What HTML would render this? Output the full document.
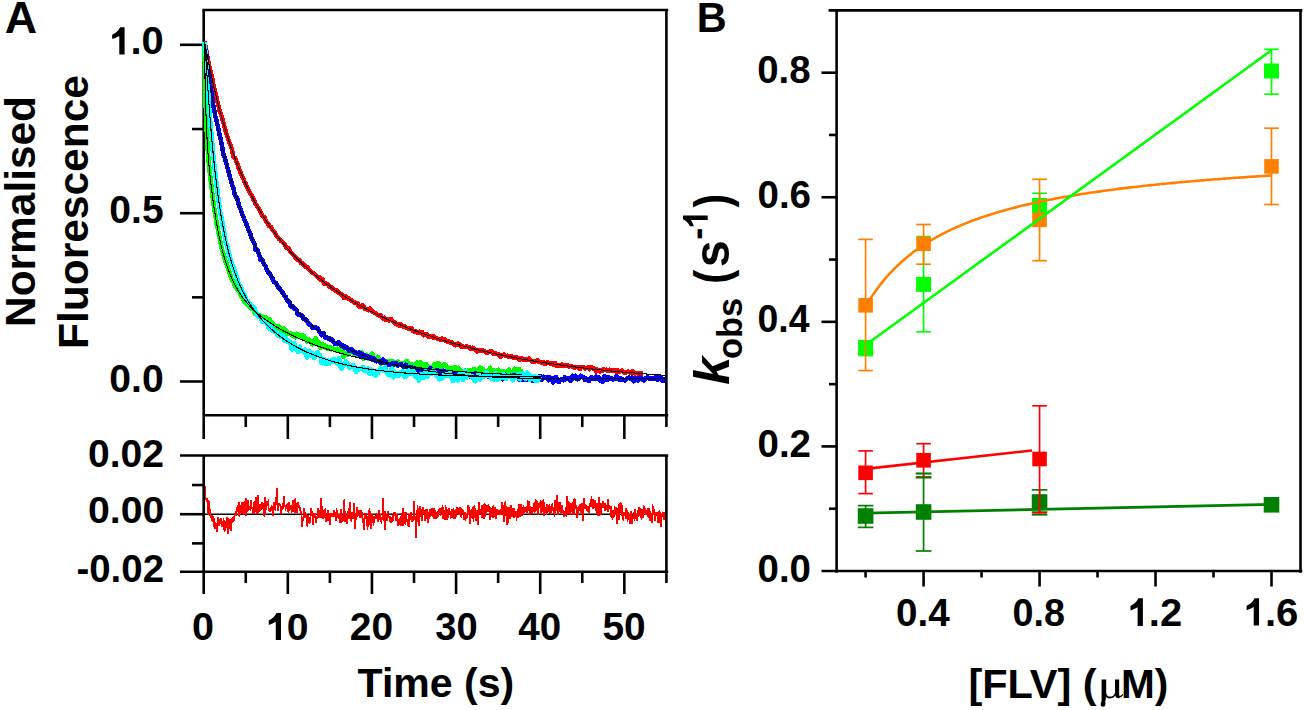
<!DOCTYPE html><html><head><meta charset="utf-8"><style>html,body{margin:0;padding:0;background:#fff;overflow:hidden}svg{display:block}</style></head><body><svg width="1305" height="710" viewBox="0 0 1305 710">
<rect width="1305" height="710" fill="#fff"/>
<defs><clipPath id="ca"><rect x="201.5" y="11.3" width="463.5" height="402.6"/></clipPath><clipPath id="cr"><rect x="205" y="456.8" width="460" height="113.6"/></clipPath></defs>
<g clip-path="url(#cr)">
<line x1="203.70" y1="514.20" x2="666.40" y2="514.20" stroke="#000" stroke-width="1.6" />
<g shape-rendering="crispEdges">
<polyline points="204.2,490.7 204.7,486.1 205.1,486.5 205.6,498.1 206.1,498.7 206.5,501.3 207.0,497.8 207.4,502.4 207.9,500.5 208.4,514.7 208.8,500.8 209.3,510.6 209.8,509.1 210.2,514.9 210.7,518.1 211.1,516.2 211.6,514.9 212.1,519.9 212.5,519.9 213.0,516.2 213.5,523.7 213.9,526.9 214.4,518.2 214.8,523.3 215.3,529.4 215.8,524.4 216.2,523.0 216.7,531.7 217.2,528.2 217.6,521.3 218.1,517.5 218.5,523.0 219.0,525.5 219.5,520.5 219.9,519.1 220.4,524.1 220.9,520.4 221.3,518.2 221.8,524.3 222.2,527.3 222.7,521.9 223.2,522.3 223.6,518.3 224.1,529.4 224.6,530.2 225.0,527.3 225.5,531.4 225.9,522.7 226.4,520.8 226.9,526.7 227.3,516.7 227.8,519.4 228.3,534.0 228.7,521.3 229.2,518.6 229.6,529.3 230.1,520.2 230.6,520.2 231.0,531.2 231.5,519.4 232.0,523.2 232.4,517.4 232.9,522.1 233.4,519.2 233.8,516.5 234.3,521.2 234.7,513.3 235.2,515.6 235.7,511.9 236.1,515.6 236.6,507.1 237.1,508.4 237.5,511.8 238.0,507.7 238.4,504.5 238.9,501.7 239.4,517.1 239.8,505.4 240.3,507.0 240.8,509.3 241.2,513.3 241.7,502.4 242.1,513.9 242.6,505.1 243.1,501.7 243.5,515.2 244.0,509.1 244.5,513.8 244.9,506.6 245.4,500.6 245.8,498.2 246.3,516.0 246.8,510.3 247.2,504.3 247.7,500.2 248.2,505.6 248.6,511.1 249.1,506.2 249.5,507.6 250.0,508.5 250.5,511.0 250.9,499.6 251.4,506.1 251.9,507.9 252.3,508.5 252.8,513.5 253.2,509.7 253.7,501.8 254.2,508.3 254.6,514.1 255.1,501.2 255.6,504.9 256.0,497.5 256.5,507.0 256.9,509.5 257.4,514.1 257.9,501.1 258.3,495.3 258.8,511.1 259.3,510.3 259.7,504.5 260.2,511.1 260.6,508.5 261.1,508.8 261.6,506.3 262.0,502.0 262.5,507.0 263.0,502.8 263.4,509.1 263.9,505.6 264.4,517.1 264.8,513.8 265.3,497.3 265.7,509.8 266.2,504.3 266.7,504.5 267.1,500.8 267.6,503.2 268.1,502.2 268.5,507.5 269.0,510.2 269.4,510.3 269.9,509.2 270.4,512.2 270.8,509.4 271.3,507.3 271.8,505.7 272.2,508.4 272.7,515.8 273.1,507.1 273.6,505.7 274.1,501.7 274.5,504.1 275.0,509.8 275.5,510.1 275.9,497.3 276.4,503.2 276.8,487.9 277.3,496.7 277.8,510.5 278.2,504.8 278.7,504.5 279.2,504.0 279.6,504.1 280.1,505.6 280.5,505.8 281.0,513.6 281.5,507.3 281.9,510.0 282.4,505.9 282.9,508.7 283.3,503.6 283.8,496.1 284.2,505.0 284.7,505.0 285.2,506.0 285.6,508.5 286.1,507.2 286.6,508.7 287.0,504.6 287.5,506.3 287.9,503.6 288.4,512.5 288.9,502.2 289.3,509.9 289.8,509.7 290.3,507.2 290.7,508.9 291.2,504.9 291.7,508.9 292.1,511.2 292.6,510.1 293.0,500.1 293.5,506.0 294.0,511.6 294.4,506.1 294.9,513.4 295.4,497.7 295.8,513.2 296.3,503.8 296.7,503.5 297.2,512.8 297.7,504.8 298.1,502.5 298.6,505.9 299.1,507.9 299.5,505.6 300.0,510.3 300.4,510.4 300.9,513.5 301.4,511.0 301.8,519.3 302.3,527.3 302.8,518.0 303.2,520.7 303.7,514.0 304.1,507.8 304.6,511.2 305.1,518.1 305.5,512.4 306.0,517.8 306.5,516.2 306.9,515.2 307.4,526.5 307.8,514.8 308.3,520.5 308.8,518.9 309.2,522.5 309.7,522.7 310.2,520.1 310.6,511.8 311.1,507.9 311.5,515.8 312.0,510.6 312.5,516.9 312.9,524.6 313.4,515.0 313.9,513.6 314.3,517.7 314.8,514.2 315.2,513.0 315.7,519.7 316.2,522.6 316.6,516.7 317.1,516.6 317.6,517.3 318.0,511.1 318.5,507.6 318.9,517.6 319.4,512.4 319.9,511.3 320.3,512.3 320.8,498.2 321.3,517.5 321.7,512.2 322.2,506.2 322.7,511.9 323.1,518.6 323.6,512.8 324.0,509.8 324.5,513.9 325.0,518.3 325.4,508.5 325.9,521.5 326.4,513.3 326.8,515.7 327.3,521.2 327.7,510.0 328.2,514.0 328.7,521.1 329.1,512.8 329.6,517.7 330.1,524.5 330.5,518.9 331.0,514.4 331.4,512.7 331.9,514.9 332.4,515.4 332.8,513.5 333.3,516.6 333.8,510.2 334.2,515.0 334.7,514.3 335.1,513.1 335.6,520.6 336.1,519.0 336.5,508.5 337.0,514.1 337.5,517.0 337.9,514.1 338.4,517.9 338.8,514.4 339.3,518.8 339.8,514.4 340.2,523.0 340.7,509.4 341.2,518.1 341.6,523.0 342.1,516.7 342.5,517.4 343.0,514.9 343.5,521.0 343.9,513.8 344.4,498.7 344.9,521.6 345.3,514.1 345.8,517.1 346.2,514.8 346.7,524.1 347.2,521.0 347.6,513.5 348.1,515.8 348.6,508.0 349.0,518.9 349.5,514.8 350.0,502.1 350.4,519.2 350.9,519.9 351.3,515.8 351.8,515.9 352.3,511.7 352.7,515.1 353.2,519.2 353.7,514.7 354.1,503.3 354.6,509.7 355.0,528.6 355.5,516.3 356.0,519.7 356.4,512.8 356.9,516.5 357.4,506.6 357.8,511.3 358.3,511.5 358.7,514.8 359.2,515.8 359.7,514.1 360.1,509.7 360.6,513.5 361.1,517.8 361.5,510.4 362.0,515.6 362.4,517.0 362.9,520.5 363.4,519.7 363.8,520.2 364.3,530.4 364.8,512.8 365.2,515.1 365.7,518.9 366.1,513.2 366.6,516.2 367.1,516.7 367.5,530.1 368.0,519.7 368.5,516.1 368.9,511.1 369.4,510.0 369.8,511.9 370.3,524.0 370.8,528.8 371.2,515.9 371.7,518.4 372.2,514.1 372.6,519.2 373.1,517.6 373.5,525.6 374.0,516.5 374.5,520.7 374.9,516.9 375.4,516.4 375.9,519.1 376.3,517.1 376.8,518.6 377.2,515.0 377.7,516.2 378.2,521.1 378.6,521.3 379.1,510.4 379.6,519.1 380.0,513.9 380.5,516.7 381.0,521.2 381.4,522.1 381.9,518.0 382.3,517.4 382.8,515.7 383.3,498.2 383.7,521.4 384.2,519.0 384.7,511.1 385.1,529.6 385.6,516.5 386.0,521.1 386.5,514.1 387.0,520.9 387.4,516.9 387.9,511.3 388.4,516.9 388.8,516.6 389.3,516.8 389.7,522.1 390.2,516.0 390.7,519.5 391.1,522.4 391.6,518.8 392.1,519.6 392.5,515.1 393.0,518.8 393.4,521.0 393.9,511.8 394.4,514.0 394.8,512.6 395.3,515.7 395.8,519.1 396.2,520.5 396.7,519.9 397.1,514.2 397.6,518.1 398.1,525.5 398.5,518.8 399.0,525.2 399.5,517.8 399.9,524.2 400.4,524.5 400.8,518.0 401.3,518.9 401.8,526.3 402.2,515.1 402.7,508.5 403.2,525.5 403.6,510.1 404.1,521.8 404.5,520.9 405.0,519.4 405.5,525.3 405.9,512.5 406.4,516.3 406.9,522.1 407.3,519.9 407.8,525.7 408.3,520.2 408.7,514.2 409.2,526.6 409.6,520.6 410.1,517.9 410.6,513.7 411.0,512.3 411.5,520.7 412.0,522.0 412.4,516.5 412.9,520.3 413.3,520.0 413.8,513.5 414.3,501.2 414.7,517.3 415.2,519.5 415.7,515.6 416.1,537.5 416.6,517.5 417.0,521.9 417.5,505.3 418.0,512.7 418.4,514.9 418.9,516.0 419.4,526.4 419.8,510.9 420.3,506.1 420.7,517.0 421.2,510.4 421.7,510.2 422.1,520.8 422.6,509.2 423.1,507.2 423.5,512.5 424.0,513.9 424.4,509.9 424.9,520.7 425.4,513.1 425.8,508.6 426.3,519.3 426.8,508.9 427.2,515.5 427.7,523.2 428.1,514.0 428.6,518.0 429.1,512.0 429.5,518.9 430.0,508.6 430.5,516.9 430.9,511.8 431.4,516.2 431.8,514.9 432.3,507.9 432.8,512.4 433.2,515.2 433.7,519.2 434.2,508.0 434.6,510.0 435.1,514.9 435.5,512.2 436.0,518.2 436.5,518.1 436.9,517.2 437.4,511.7 437.9,511.9 438.3,516.8 438.8,509.9 439.3,509.6 439.7,512.5 440.2,508.4 440.6,514.6 441.1,513.8 441.6,511.1 442.0,513.4 442.5,505.1 443.0,519.1 443.4,506.6 443.9,516.9 444.3,514.0 444.8,519.6 445.3,510.4 445.7,507.2 446.2,508.2 446.7,509.3 447.1,520.4 447.6,516.8 448.0,515.3 448.5,517.5 449.0,507.9 449.4,512.3 449.9,513.2 450.4,510.8 450.8,517.6 451.3,517.3 451.7,517.2 452.2,510.8 452.7,511.5 453.1,510.4 453.6,508.0 454.1,519.4 454.5,515.7 455.0,512.4 455.4,519.3 455.9,515.5 456.4,508.3 456.8,507.9 457.3,508.0 457.8,512.8 458.2,514.0 458.7,507.9 459.1,514.7 459.6,511.4 460.1,506.8 460.5,514.7 461.0,515.8 461.5,513.0 461.9,510.1 462.4,510.7 462.8,512.2 463.3,510.3 463.8,520.4 464.2,516.9 464.7,512.1 465.2,517.2 465.6,519.1 466.1,518.5 466.6,517.1 467.0,513.7 467.5,517.6 467.9,511.7 468.4,504.9 468.9,513.5 469.3,506.9 469.8,511.4 470.3,524.3 470.7,514.0 471.2,517.4 471.6,509.2 472.1,518.1 472.6,506.6 473.0,510.0 473.5,522.2 474.0,509.1 474.4,505.5 474.9,516.4 475.3,508.1 475.8,521.1 476.3,511.5 476.7,520.4 477.2,510.4 477.7,521.0 478.1,524.9 478.6,510.8 479.0,502.0 479.5,515.4 480.0,508.7 480.4,512.1 480.9,514.1 481.4,509.7 481.8,504.9 482.3,518.4 482.7,509.9 483.2,511.0 483.7,519.2 484.1,505.0 484.6,503.4 485.1,517.0 485.5,504.4 486.0,512.3 486.4,513.3 486.9,505.5 487.4,511.4 487.8,511.0 488.3,505.4 488.8,506.5 489.2,508.3 489.7,519.0 490.1,519.8 490.6,507.2 491.1,516.8 491.5,511.7 492.0,517.4 492.5,513.3 492.9,518.4 493.4,504.8 493.9,517.2 494.3,513.0 494.8,513.3 495.2,506.7 495.7,519.0 496.2,512.5 496.6,513.3 497.1,509.9 497.6,510.1 498.0,514.5 498.5,511.2 498.9,514.1 499.4,510.1 499.9,512.8 500.3,515.3 500.8,512.4 501.3,510.6 501.7,501.7 502.2,514.5 502.6,510.8 503.1,505.4 503.6,521.9 504.0,520.4 504.5,517.8 505.0,512.7 505.4,500.8 505.9,510.4 506.3,506.5 506.8,513.2 507.3,523.7 507.7,523.0 508.2,507.4 508.7,511.3 509.1,518.2 509.6,506.9 510.0,519.3 510.5,506.8 511.0,505.3 511.4,515.7 511.9,517.3 512.4,508.1 512.8,517.2 513.3,508.0 513.7,517.6 514.2,508.3 514.7,511.6 515.1,516.5 515.6,516.2 516.1,510.9 516.5,520.9 517.0,513.3 517.4,513.9 517.9,508.8 518.4,517.8 518.8,504.0 519.3,513.4 519.8,517.3 520.2,505.5 520.7,504.2 521.1,512.8 521.6,516.1 522.1,511.8 522.5,515.1 523.0,513.4 523.5,504.6 523.9,510.1 524.4,511.2 524.9,510.3 525.3,512.1 525.8,507.8 526.2,507.4 526.7,513.0 527.2,510.6 527.6,499.6 528.1,508.6 528.6,511.2 529.0,500.6 529.5,509.9 529.9,514.8 530.4,506.3 530.9,513.4 531.3,511.3 531.8,507.2 532.3,509.1 532.7,511.8 533.2,510.6 533.6,510.8 534.1,502.6 534.6,511.4 535.0,510.7 535.5,498.6 536.0,510.7 536.4,501.1 536.9,501.9 537.3,508.8 537.8,514.7 538.3,506.0 538.7,504.9 539.2,503.6 539.7,507.7 540.1,502.5 540.6,501.6 541.0,513.0 541.5,501.4 542.0,507.3 542.4,510.7 542.9,509.6 543.4,499.3 543.8,503.5 544.3,516.4 544.7,507.7 545.2,508.7 545.7,508.9 546.1,510.5 546.6,514.9 547.1,504.1 547.5,512.5 548.0,509.8 548.4,510.9 548.9,511.5 549.4,504.6 549.8,506.3 550.3,511.2 550.8,512.5 551.2,510.3 551.7,503.6 552.2,507.5 552.6,507.0 553.1,509.6 553.5,509.3 554.0,507.1 554.5,516.7 554.9,500.5 555.4,511.7 555.9,510.7 556.3,501.8 556.8,507.0 557.2,495.2 557.7,510.8 558.2,515.4 558.6,507.2 559.1,502.5 559.6,512.3 560.0,501.7 560.5,513.3 560.9,511.5 561.4,505.7 561.9,508.1 562.3,504.8 562.8,511.5 563.3,512.9 563.7,516.8 564.2,513.7 564.6,513.1 565.1,514.7 565.6,506.6 566.0,511.2 566.5,517.4 567.0,496.5 567.4,512.0 567.9,513.9 568.3,502.3 568.8,502.6 569.3,513.4 569.7,515.0 570.2,512.7 570.7,502.8 571.1,509.5 571.6,511.8 572.0,508.2 572.5,502.5 573.0,514.6 573.4,509.9 573.9,514.5 574.4,497.9 574.8,499.6 575.3,503.6 575.7,508.7 576.2,505.0 576.7,517.9 577.1,506.8 577.6,514.3 578.1,514.3 578.5,511.4 579.0,509.7 579.4,505.4 579.9,504.8 580.4,506.8 580.8,512.5 581.3,504.9 581.8,508.6 582.2,502.6 582.7,512.4 583.2,521.0 583.6,510.3 584.1,498.0 584.5,505.9 585.0,509.0 585.5,503.9 585.9,505.7 586.4,505.9 586.9,510.5 587.3,507.7 587.8,507.1 588.2,511.1 588.7,513.3 589.2,507.4 589.6,503.6 590.1,505.1 590.6,505.8 591.0,505.7 591.5,496.0 591.9,506.9 592.4,503.2 592.9,498.9 593.3,507.8 593.8,506.8 594.3,503.2 594.7,500.2 595.2,506.6 595.6,506.4 596.1,507.6 596.6,513.7 597.0,502.9 597.5,509.3 598.0,516.1 598.4,508.7 598.9,516.1 599.3,496.7 599.8,508.0 600.3,512.4 600.7,503.1 601.2,514.9 601.7,506.8 602.1,505.4 602.6,501.2 603.0,503.7 603.5,506.9 604.0,507.7 604.4,508.3 604.9,502.7 605.4,511.1 605.8,505.6 606.3,508.5 606.7,507.1 607.2,509.7 607.7,498.8 608.1,512.1 608.6,508.1 609.1,508.3 609.5,507.0 610.0,508.0 610.5,508.3 610.9,506.0 611.4,517.9 611.8,511.1 612.3,517.1 612.8,510.5 613.2,517.4 613.7,516.6 614.2,512.7 614.6,506.1 615.1,510.2 615.5,511.8 616.0,506.9 616.5,518.1 616.9,523.7 617.4,516.1 617.9,515.4 618.3,508.4 618.8,504.2 619.2,520.3 619.7,502.6 620.2,506.8 620.6,510.2 621.1,512.4 621.6,502.8 622.0,513.8 622.5,516.3 622.9,513.5 623.4,520.5 623.9,511.9 624.3,514.6 624.8,512.6 625.3,512.5 625.7,519.1 626.2,508.0 626.6,518.9 627.1,510.0 627.6,521.6 628.0,512.4 628.5,518.0 629.0,513.9 629.4,517.2 629.9,524.3 630.3,519.3 630.8,513.8 631.3,511.2 631.7,521.0 632.2,524.0 632.7,518.2 633.1,515.1 633.6,517.1 634.0,517.9 634.5,510.2 635.0,509.6 635.4,510.7 635.9,518.5 636.4,513.8 636.8,515.0 637.3,520.8 637.7,510.0 638.2,513.7 638.7,516.4 639.1,507.5 639.6,510.6 640.1,510.1 640.5,508.5 641.0,510.8 641.5,520.0 641.9,515.9 642.4,509.4 642.8,517.7 643.3,514.0 643.8,512.3 644.2,507.4 644.7,508.1 645.2,509.9 645.6,515.0 646.1,509.9 646.5,511.7 647.0,514.9 647.5,507.8 647.9,511.8 648.4,517.7 648.9,508.2 649.3,515.3 649.8,511.4 650.2,521.3 650.7,514.2 651.2,518.6 651.6,518.7 652.1,523.1 652.6,504.1 653.0,514.8 653.5,513.0 653.9,509.0 654.4,514.7 654.9,511.8 655.3,520.5 655.8,513.2 656.3,516.1 656.7,511.8 657.2,513.3 657.6,520.6 658.1,522.8 658.6,518.9 659.0,510.7 659.5,512.2 660.0,512.3 660.4,523.6 660.9,526.7 661.3,517.1 661.8,515.7 662.3,517.0 662.7,512.5 663.2,515.0 663.7,519.7 664.1,518.3 664.6,513.5 665.0,513.8 665.5,514.5 666.0,503.6 666.4,515.4" fill="none" stroke="#ff0000" stroke-width="1.7"/>
</g></g>
<line x1="202.40" y1="10.00" x2="668.20" y2="10.00" stroke="#000" stroke-width="2.6" />
<line x1="203.70" y1="10.00" x2="203.70" y2="439.00" stroke="#000" stroke-width="2.6" />
<line x1="666.40" y1="10.00" x2="666.40" y2="427.00" stroke="#000" stroke-width="2.6" />
<line x1="203.70" y1="415.20" x2="668.20" y2="415.20" stroke="#000" stroke-width="2.6" />
<line x1="287.83" y1="415.20" x2="287.83" y2="439.00" stroke="#000" stroke-width="2.6" />
<line x1="371.95" y1="415.20" x2="371.95" y2="439.00" stroke="#000" stroke-width="2.6" />
<line x1="456.08" y1="415.20" x2="456.08" y2="439.00" stroke="#000" stroke-width="2.6" />
<line x1="540.21" y1="415.20" x2="540.21" y2="439.00" stroke="#000" stroke-width="2.6" />
<line x1="624.34" y1="415.20" x2="624.34" y2="439.00" stroke="#000" stroke-width="2.6" />
<line x1="245.76" y1="415.20" x2="245.76" y2="427.00" stroke="#000" stroke-width="2.6" />
<line x1="329.89" y1="415.20" x2="329.89" y2="427.00" stroke="#000" stroke-width="2.6" />
<line x1="414.02" y1="415.20" x2="414.02" y2="427.00" stroke="#000" stroke-width="2.6" />
<line x1="498.15" y1="415.20" x2="498.15" y2="427.00" stroke="#000" stroke-width="2.6" />
<line x1="582.27" y1="415.20" x2="582.27" y2="427.00" stroke="#000" stroke-width="2.6" />
<line x1="180.00" y1="381.50" x2="203.70" y2="381.50" stroke="#000" stroke-width="2.6" />
<line x1="180.00" y1="213.20" x2="203.70" y2="213.20" stroke="#000" stroke-width="2.6" />
<line x1="180.00" y1="44.80" x2="203.70" y2="44.80" stroke="#000" stroke-width="2.6" />
<line x1="192.00" y1="297.35" x2="203.70" y2="297.35" stroke="#000" stroke-width="2.6" />
<line x1="192.00" y1="129.05" x2="203.70" y2="129.05" stroke="#000" stroke-width="2.6" />
<line x1="180.00" y1="455.50" x2="668.20" y2="455.50" stroke="#000" stroke-width="2.6" />
<line x1="203.70" y1="455.50" x2="203.70" y2="594.00" stroke="#000" stroke-width="2.6" />
<line x1="666.40" y1="455.50" x2="666.40" y2="583.00" stroke="#000" stroke-width="2.6" />
<line x1="180.00" y1="571.70" x2="668.20" y2="571.70" stroke="#000" stroke-width="2.6" />
<line x1="180.00" y1="514.20" x2="203.70" y2="514.20" stroke="#000" stroke-width="2.6" />
<line x1="192.00" y1="485.03" x2="203.70" y2="485.03" stroke="#000" stroke-width="2.6" />
<line x1="192.00" y1="543.38" x2="203.70" y2="543.38" stroke="#000" stroke-width="2.6" />
<line x1="287.83" y1="571.70" x2="287.83" y2="594.00" stroke="#000" stroke-width="2.6" />
<line x1="371.95" y1="571.70" x2="371.95" y2="594.00" stroke="#000" stroke-width="2.6" />
<line x1="456.08" y1="571.70" x2="456.08" y2="594.00" stroke="#000" stroke-width="2.6" />
<line x1="540.21" y1="571.70" x2="540.21" y2="594.00" stroke="#000" stroke-width="2.6" />
<line x1="624.34" y1="571.70" x2="624.34" y2="594.00" stroke="#000" stroke-width="2.6" />
<line x1="245.76" y1="571.70" x2="245.76" y2="583.00" stroke="#000" stroke-width="2.6" />
<line x1="329.89" y1="571.70" x2="329.89" y2="583.00" stroke="#000" stroke-width="2.6" />
<line x1="414.02" y1="571.70" x2="414.02" y2="583.00" stroke="#000" stroke-width="2.6" />
<line x1="498.15" y1="571.70" x2="498.15" y2="583.00" stroke="#000" stroke-width="2.6" />
<line x1="582.27" y1="571.70" x2="582.27" y2="583.00" stroke="#000" stroke-width="2.6" />
<g clip-path="url(#ca)" shape-rendering="crispEdges">
<polyline points="204.5,41.4 205.1,44.6 205.7,47.8 206.3,50.9 206.9,54.1 207.4,56.6 208.0,59.7 208.6,62.5 209.2,65.9 209.8,68.7 210.4,71.3 211.0,73.5 211.6,75.3 212.2,77.9 212.7,81.1 213.3,84.1 213.9,87.2 214.5,89.8 215.1,92.2 215.7,93.8 216.3,96.7 216.9,99.9 217.5,101.9 218.0,103.6 218.6,106.2 219.2,109.6 219.8,111.6 220.4,112.6 221.0,114.2 221.6,116.0 222.2,118.3 222.8,120.3 223.3,122.4 223.9,124.6 224.5,126.8 225.1,129.1 225.7,131.2 226.3,133.0 226.9,134.9 227.5,136.7 228.1,138.9 228.6,140.6 229.2,142.5 229.8,143.6 230.4,145.1 231.0,146.7 231.6,148.2 232.2,150.8 232.8,153.4 233.4,156.4 233.9,157.2 234.5,157.9 235.1,158.2 235.7,159.6 236.3,161.7 236.9,162.9 237.5,164.1 238.1,165.5 238.7,168.1 239.2,169.6 239.8,170.9 240.4,172.2 241.0,173.7 241.6,174.7 242.2,176.2 242.8,177.3 243.4,178.8 244.0,180.5 244.5,182.2 245.1,182.9 245.7,183.8 246.3,185.3 246.9,186.6 247.5,188.0 248.1,189.7 248.7,190.8 249.3,191.9 249.8,192.8 250.4,193.8 251.0,194.5 251.6,194.7 252.2,196.3 252.8,198.1 253.4,200.1 254.0,200.1 254.6,200.9 255.1,202.7 255.7,204.0 256.3,204.9 256.9,205.8 257.5,206.8 258.1,207.6 258.7,208.9 259.3,210.0 259.9,210.7 260.4,211.5 261.0,213.0 261.6,214.0 262.2,215.4 262.8,216.6 263.4,217.0 264.0,217.0 264.6,217.2 265.2,219.0 265.7,220.3 266.3,221.4 266.9,222.5 267.5,223.3 268.1,224.1 268.7,224.7 269.3,226.2 269.9,226.6 270.5,226.8 271.0,227.0 271.6,228.6 272.2,230.0 272.8,230.5 273.4,230.8 274.0,231.5 274.6,232.6 275.2,233.7 275.8,234.2 276.3,235.4 276.9,236.1 277.5,237.2 278.1,237.8 278.7,238.7 279.3,239.0 279.9,239.1 280.5,240.3 281.1,241.2 281.6,241.4 282.2,241.6 282.8,242.0 283.4,242.6 284.0,243.2 284.6,244.0 285.2,245.2 285.8,246.5 286.4,247.5 286.9,247.6 287.5,247.6 288.1,247.9 288.7,248.7 289.3,249.9 289.9,251.1 290.5,252.0 291.1,252.8 291.7,253.1 292.2,253.6 292.8,254.3 293.4,255.2 294.0,255.7 294.6,256.4 295.2,257.8 295.8,258.3 296.4,258.6 297.0,258.4 297.5,259.0 298.1,260.1 298.7,260.1 299.3,260.3 299.9,260.4 300.5,262.4 301.1,263.1 301.7,263.2 302.3,263.3 302.8,264.1 303.4,264.2 304.0,264.6 304.6,265.8 305.2,266.4 305.8,266.4 306.4,266.8 307.0,267.0 307.6,267.3 308.1,268.1 308.7,269.4 309.3,270.0 309.9,270.5 310.5,271.0 311.1,271.6 311.7,272.3 312.3,272.7 312.9,272.8 313.4,273.0 314.0,273.3 314.6,273.8 315.2,274.4 315.8,275.2 316.4,276.0 317.0,276.3 317.6,277.2 318.2,277.8 318.7,277.2 319.3,277.3 319.9,278.0 320.5,279.8 321.1,279.9 321.7,280.1 322.3,279.2 322.9,280.1 323.5,281.9 324.0,283.5 324.6,283.3 325.2,283.2 325.8,283.3 326.4,283.8 327.0,284.0 327.6,284.2 328.2,284.7 328.8,285.9 329.3,286.2 329.9,287.2 330.5,287.2 331.1,287.8 331.7,287.6 332.3,288.6 332.9,288.9 333.5,289.3 334.1,289.6 334.6,290.2 335.2,290.4 335.8,290.7 336.4,290.4 337.0,291.0 337.6,291.6 338.2,292.4 338.8,292.2 339.4,292.7 339.9,293.5 340.5,293.6 341.1,293.9 341.7,294.7 342.3,295.5 342.9,295.9 343.5,297.0 344.1,298.1 344.7,297.9 345.2,296.9 345.8,296.4 346.4,296.8 347.0,297.9 347.6,298.4 348.2,298.3 348.8,298.4 349.4,298.9 350.0,299.6 350.5,299.8 351.1,300.2 351.7,301.0 352.3,301.1 352.9,301.5 353.5,301.7 354.1,302.6 354.7,302.5 355.3,302.6 355.8,302.7 356.4,302.8 357.0,303.0 357.6,303.6 358.2,305.6 358.8,306.4 359.4,306.4 360.0,306.0 360.6,306.6 361.1,306.6 361.7,306.1 362.3,305.4 362.9,305.4 363.5,306.4 364.1,307.6 364.7,308.7 365.3,308.7 365.9,308.7 366.4,308.8 367.0,309.5 367.6,310.0 368.2,310.3 368.8,310.2 369.4,309.0 370.0,308.6 370.6,309.3 371.2,310.6 371.7,311.4 372.3,311.4 372.9,311.6 373.5,311.9 374.1,312.9 374.7,312.9 375.3,313.3 375.9,313.4 376.5,314.3 377.0,314.8 377.6,314.7 378.2,314.7 378.8,315.5 379.4,315.8 380.0,315.3 380.6,315.1 381.2,316.5 381.8,317.3 382.3,318.1 382.9,318.3 383.5,318.5 384.1,317.7 384.7,317.9 385.3,319.0 385.9,319.9 386.5,319.6 387.1,319.9 387.6,319.3 388.2,318.9 388.8,319.0 389.4,320.4 390.0,320.0 390.6,319.0 391.2,319.3 391.8,320.6 392.4,321.1 392.9,321.5 393.5,322.4 394.1,322.5 394.7,322.4 395.3,322.8 395.9,324.0 396.5,324.4 397.1,324.2 397.7,324.1 398.2,324.7 398.8,325.5 399.4,324.7 400.0,324.1 400.6,324.6 401.2,325.5 401.8,325.5 402.4,325.5 403.0,326.5 403.5,327.0 404.1,327.1 404.7,326.4 405.3,327.1 405.9,327.2 406.5,327.6 407.1,328.2 407.7,328.4 408.3,328.3 408.8,328.0 409.4,328.7 410.0,328.4 410.6,328.2 411.2,328.0 411.8,328.4 412.4,329.6 413.0,331.1 413.6,331.5 414.1,331.3 414.7,330.9 415.3,330.9 415.9,331.4 416.5,332.3 417.1,332.9 417.7,333.0 418.3,332.9 418.9,332.3 419.4,331.7 420.0,332.1 420.6,333.0 421.2,333.1 421.8,332.4 422.4,332.4 423.0,334.1 423.6,335.3 424.2,335.3 424.7,334.8 425.3,334.0 425.9,333.9 426.5,334.0 427.1,335.3 427.7,336.1 428.3,336.6 428.9,336.6 429.5,336.5 430.0,336.3 430.6,336.1 431.2,335.9 431.8,336.6 432.4,337.1 433.0,337.4 433.6,336.5 434.2,336.7 434.8,337.1 435.3,338.1 435.9,338.2 436.5,338.2 437.1,338.3 437.7,338.9 438.3,339.2 438.9,338.9 439.5,339.3 440.1,339.4 440.6,339.6 441.2,338.9 441.8,338.6 442.4,338.9 443.0,340.2 443.6,340.0 444.2,339.4 444.8,339.4 445.4,340.6 445.9,341.2 446.5,341.3 447.1,341.0 447.7,341.4 448.3,341.6 448.9,341.6 449.5,342.0 450.1,342.4 450.7,342.5 451.2,342.2 451.8,342.8 452.4,342.9 453.0,343.8 453.6,343.9 454.2,344.5 454.8,344.3 455.4,345.3 456.0,345.2 456.5,344.9 457.1,343.9 457.7,343.6 458.3,344.4 458.9,344.4 459.5,344.1 460.1,344.3 460.7,345.7 461.3,346.5 461.8,346.3 462.4,346.0 463.0,346.8 463.6,347.1 464.2,347.0 464.8,346.8 465.4,346.9 466.0,346.8 466.6,346.4 467.1,346.5 467.7,346.7 468.3,346.9 468.9,346.8 469.5,347.1 470.1,348.4 470.7,349.1 471.3,348.8 471.9,348.3 472.4,347.7 473.0,347.8 473.6,347.9 474.2,348.6 474.8,349.1 475.4,349.5 476.0,349.9 476.6,350.7 477.2,351.6 477.7,351.2 478.3,350.3 478.9,350.0 479.5,350.9 480.1,351.3 480.7,351.0 481.3,350.4 481.9,350.6 482.5,350.5 483.0,350.5 483.6,350.8 484.2,351.1 484.8,351.6 485.4,351.8 486.0,352.5 486.6,352.4 487.2,353.0 487.8,352.7 488.3,352.4 488.9,352.2 489.5,352.2 490.1,351.9 490.7,351.4 491.3,351.3 491.9,351.8 492.5,352.7 493.1,353.6 493.6,353.9 494.2,353.6 494.8,353.1 495.4,354.0 496.0,353.5 496.6,353.9 497.2,353.8 497.8,354.4 498.4,354.4 498.9,355.0 499.5,356.1 500.1,356.4 500.7,357.0 501.3,356.4 501.9,355.7 502.5,355.2 503.1,355.0 503.7,354.5 504.2,354.5 504.8,355.3 505.4,356.1 506.0,356.3 506.6,355.9 507.2,355.7 507.8,355.9 508.4,356.6 509.0,356.6 509.5,356.6 510.1,356.7 510.7,356.9 511.3,356.4 511.9,356.1 512.5,356.7 513.1,357.7 513.7,357.8 514.3,357.4 514.8,357.4 515.4,357.4 516.0,357.2 516.6,357.6 517.2,357.8 517.8,357.9 518.4,358.5 519.0,359.3 519.6,359.9 520.1,358.9 520.7,358.2 521.3,358.0 521.9,358.6 522.5,359.0 523.1,359.6 523.7,359.5 524.3,359.4 524.9,358.8 525.4,358.9 526.0,359.0 526.6,359.8 527.2,360.0 527.8,360.1 528.4,359.6 529.0,358.6 529.6,359.1 530.2,360.0 530.7,360.5 531.3,360.5 531.9,361.1 532.5,361.6 533.1,362.2 533.7,362.1 534.3,361.7 534.9,361.0 535.5,361.3 536.0,361.3 536.6,360.5 537.2,360.3 537.8,360.5 538.4,361.5 539.0,361.7 539.6,362.1 540.2,362.1 540.8,362.6 541.3,363.0 541.9,362.9 542.5,362.2 543.1,361.8 543.7,362.3 544.3,362.7 544.9,363.8 545.5,363.6 546.1,363.4 546.6,362.6 547.2,362.6 547.8,362.7 548.4,362.7 549.0,363.2 549.6,363.1 550.2,363.6 550.8,363.5 551.4,363.2 551.9,363.3 552.5,363.9 553.1,364.6 553.7,364.3 554.3,363.2 554.9,363.0 555.5,364.3 556.1,365.8 556.7,366.1 557.2,365.7 557.8,365.5 558.4,365.3 559.0,365.5 559.6,366.2 560.2,366.0 560.8,365.9 561.4,365.0 562.0,364.6 562.5,364.7 563.1,365.5 563.7,365.9 564.3,365.4 564.9,365.8 565.5,366.2 566.1,365.7 566.7,365.0 567.3,365.2 567.8,365.9 568.4,366.4 569.0,366.4 569.6,366.1 570.2,365.8 570.8,365.9 571.4,365.8 572.0,366.6 572.6,367.0 573.1,367.3 573.7,366.8 574.3,367.2 574.9,367.5 575.5,367.3 576.1,366.9 576.7,366.9 577.3,367.4 577.9,367.5 578.4,367.4 579.0,368.2 579.6,368.9 580.2,368.9 580.8,367.8 581.4,366.9 582.0,367.2 582.6,367.1 583.2,367.2 583.7,367.0 584.3,367.9 584.9,368.4 585.5,368.1 586.1,367.8 586.7,367.9 587.3,368.0 587.9,367.3 588.5,367.8 589.0,368.7 589.6,369.2 590.2,368.1 590.8,367.0 591.4,367.0 592.0,367.9 592.6,368.4 593.2,368.0 593.8,368.3 594.3,368.5 594.9,369.1 595.5,370.2 596.1,371.3 596.7,370.9 597.3,369.5 597.9,369.8 598.5,371.0 599.1,371.3 599.6,371.5 600.2,371.1 600.8,370.3 601.4,370.2 602.0,370.7 602.6,370.7 603.2,369.3 603.8,369.4 604.4,369.6 604.9,370.2 605.5,369.9 606.1,369.7 606.7,369.9 607.3,370.8 607.9,371.0 608.5,370.8 609.1,369.7 609.7,369.8 610.2,370.1 610.8,371.0 611.4,370.9 612.0,370.8 612.6,371.0 613.2,370.8 613.8,369.9 614.4,369.8 615.0,371.1 615.5,371.4 616.1,371.4 616.7,370.3 617.3,370.4 617.9,370.1 618.5,371.5 619.1,371.8 619.7,371.7 620.3,371.0 620.8,371.3 621.4,371.0 622.0,370.6 622.6,370.7 623.2,371.9 623.8,372.4 624.4,371.9 625.0,371.8 625.6,372.0 626.1,372.7 626.7,372.1 627.3,372.0 627.9,371.6 628.5,371.8 629.1,372.0 629.7,372.3 630.3,372.0 630.9,372.3 631.4,372.6 632.0,371.5 632.6,370.9 633.2,371.4 633.8,373.1 634.4,373.1 635.0,373.4 635.6,372.8 636.2,372.9 636.7,373.2 637.3,373.3 637.9,373.1 638.5,373.3 639.1,373.8 639.7,374.0 640.3,373.6 640.9,373.6 641.5,373.4 642.0,373.4 642.6,373.4" fill="none" stroke="#ff0000" stroke-width="4.5" stroke-linejoin="round"/>
<polyline points="204.5,41.7 205.1,79.8 205.7,104.1 206.3,121.5 206.9,134.0 207.4,145.1 208.0,153.5 208.6,160.6 209.2,166.9 209.8,172.7 210.4,178.2 211.0,183.7 211.6,188.8 212.2,192.9 212.7,197.2 213.3,201.8 213.9,206.3 214.5,209.9 215.1,213.1 215.7,217.0 216.3,221.2 216.9,225.0 217.5,227.6 218.0,230.0 218.6,232.8 219.2,236.0 219.8,238.9 220.4,241.9 221.0,245.2 221.6,248.2 222.2,250.0 222.8,251.8 223.3,254.0 223.9,255.6 224.5,257.7 225.1,259.8 225.7,261.9 226.3,263.0 226.9,264.7 227.5,266.8 228.1,268.4 228.6,270.0 229.2,271.5 229.8,273.6 230.4,275.2 231.0,277.4 231.6,279.0 232.2,280.7 232.8,280.9 233.4,281.6 233.9,282.4 234.5,284.4 235.1,285.6 235.7,286.9 236.3,287.9 236.9,288.6 237.5,290.0 238.1,290.7 238.7,290.5 239.2,290.7 239.8,292.4 240.4,295.2 241.0,295.9 241.6,297.4 242.2,297.4 242.8,298.1 243.4,299.1 244.0,301.1 244.5,302.3 245.1,302.4 245.7,301.8 246.3,301.7 246.9,303.1 247.5,304.8 248.1,305.1 248.7,306.3 249.3,306.7 249.8,306.6 250.4,307.3 251.0,308.1 251.6,309.2 252.2,309.1 252.8,309.4 253.4,309.7 254.0,311.7 254.6,313.6 255.1,313.7 255.7,313.3 256.3,313.3 256.9,313.6 257.5,314.3 258.1,314.6 258.7,315.2 259.3,315.4 259.9,315.5 260.4,316.2 261.0,315.9 261.6,316.6 262.2,316.6 262.8,318.2 263.4,318.0 264.0,318.3 264.6,317.7 265.2,317.3 265.7,318.5 266.3,318.1 266.9,318.3 267.5,319.3 268.1,322.7 268.7,322.0 269.3,319.9 269.9,319.5 270.5,321.3 271.0,321.7 271.6,321.9 272.2,323.4 272.8,324.8 273.4,324.5 274.0,324.3 274.6,325.7 275.2,326.4 275.8,327.5 276.3,328.1 276.9,327.8 277.5,326.2 278.1,326.0 278.7,327.2 279.3,326.9 279.9,327.2 280.5,329.4 281.1,330.8 281.6,332.8 282.2,334.1 282.8,333.1 283.4,329.3 284.0,328.4 284.6,330.4 285.2,331.4 285.8,330.4 286.4,331.0 286.9,332.6 287.5,334.2 288.1,333.7 288.7,332.8 289.3,332.8 289.9,332.8 290.5,333.8 291.1,334.3 291.7,335.5 292.2,335.9 292.8,335.2 293.4,334.5 294.0,335.2 294.6,336.6 295.2,337.2 295.8,336.3 296.4,335.4 297.0,333.8 297.5,335.4 298.1,337.2 298.7,336.4 299.3,335.3 299.9,334.9 300.5,335.0 301.1,336.2 301.7,337.3 302.3,337.4 302.8,335.8 303.4,335.6 304.0,335.8 304.6,337.1 305.2,338.4 305.8,339.1 306.4,339.3 307.0,341.5 307.6,340.7 308.1,340.7 308.7,339.3 309.3,340.4 309.9,340.2 310.5,340.8 311.1,341.2 311.7,343.0 312.3,344.2 312.9,343.1 313.4,342.3 314.0,343.6 314.6,343.0 315.2,340.3 315.8,338.4 316.4,340.4 317.0,341.8 317.6,342.6 318.2,342.2 318.7,342.7 319.3,345.1 319.9,346.8 320.5,348.0 321.1,345.7 321.7,344.7 322.3,344.3 322.9,345.6 323.5,345.3 324.0,345.0 324.6,345.8 325.2,347.7 325.8,347.1 326.4,346.4 327.0,346.4 327.6,348.7 328.2,348.9 328.8,348.6 329.3,347.2 329.9,347.7 330.5,348.1 331.1,349.2 331.7,347.7 332.3,348.6 332.9,348.8 333.5,349.1 334.1,349.2 334.6,350.0 335.2,350.2 335.8,349.9 336.4,350.6 337.0,349.9 337.6,348.8 338.2,349.3 338.8,350.8 339.4,350.7 339.9,349.2 340.5,348.3 341.1,348.3 341.7,348.2 342.3,350.2 342.9,353.1 343.5,356.6 344.1,354.9 344.7,354.9 345.2,354.1 345.8,353.6 346.4,352.8 347.0,354.1 347.6,354.9 348.2,353.1 348.8,353.7 349.4,354.0 350.0,353.7 350.5,352.3 351.1,352.7 351.7,352.4 352.3,352.2 352.9,352.8 353.5,354.3 354.1,354.2 354.7,354.3 355.3,353.8 355.8,354.2 356.4,353.3 357.0,354.3 357.6,355.1 358.2,355.6 358.8,354.6 359.4,353.8 360.0,353.7 360.6,353.6 361.1,352.9 361.7,352.4 362.3,354.5 362.9,358.1 363.5,358.5 364.1,357.4 364.7,356.4 365.3,357.0 365.9,355.8 366.4,354.7 367.0,355.7 367.6,357.4 368.2,358.4 368.8,358.8 369.4,358.9 370.0,358.4 370.6,357.2 371.2,355.6 371.7,353.8 372.3,353.7 372.9,356.4 373.5,359.1 374.1,359.3 374.7,358.6 375.3,358.1 375.9,359.5 376.5,359.4 377.0,357.3 377.6,356.7 378.2,358.0 378.8,360.0 379.4,359.4 380.0,360.3 380.6,362.5 381.2,363.5 381.8,362.4 382.3,361.6 382.9,362.2 383.5,363.0 384.1,362.8 384.7,362.0 385.3,362.6 385.9,363.3 386.5,362.6 387.1,361.2 387.6,362.1 388.2,363.2 388.8,362.9 389.4,361.1 390.0,362.0 390.6,362.2 391.2,362.7 391.8,361.6 392.4,361.5 392.9,361.8 393.5,363.2 394.1,363.9 394.7,362.5 395.3,362.1 395.9,363.7 396.5,365.2 397.1,364.3 397.7,361.9 398.2,361.6 398.8,362.8 399.4,363.9 400.0,363.7 400.6,364.3 401.2,364.8 401.8,364.5 402.4,363.5 403.0,363.2 403.5,364.3 404.1,365.3 404.7,365.8 405.3,364.2 405.9,362.1 406.5,361.1 407.1,361.1 407.7,362.3 408.3,363.4 408.8,366.0 409.4,365.9 410.0,365.7 410.6,364.8 411.2,364.5 411.8,364.2 412.4,365.5 413.0,366.3 413.6,365.9 414.1,365.0 414.7,364.5 415.3,364.5 415.9,365.0 416.5,364.2 417.1,362.6 417.7,362.7 418.3,365.4 418.9,367.0 419.4,366.5 420.0,364.8 420.6,362.4 421.2,362.5 421.8,363.9 422.4,366.2 423.0,366.1 423.6,366.5 424.2,367.3 424.7,366.8 425.3,365.8 425.9,364.1 426.5,365.1 427.1,365.6 427.7,366.0 428.3,367.1 428.9,369.2 429.5,369.0 430.0,366.8 430.6,367.5 431.2,369.4 431.8,370.1 432.4,369.1 433.0,367.0 433.6,366.1 434.2,364.6 434.8,365.5 435.3,366.3 435.9,366.9 436.5,365.3 437.1,363.7 437.7,363.3 438.3,363.1 438.9,363.5 439.5,366.7 440.1,369.1 440.6,369.6 441.2,367.7 441.8,366.5 442.4,367.1 443.0,366.8 443.6,365.3 444.2,364.1 444.8,364.8 445.4,366.1 445.9,365.9 446.5,366.4 447.1,367.5 447.7,368.4 448.3,368.3 448.9,369.2 449.5,369.7 450.1,369.3 450.7,368.0 451.2,368.6 451.8,368.5 452.4,367.9 453.0,368.0 453.6,368.6 454.2,368.2 454.8,366.9 455.4,368.0 456.0,370.1 456.5,370.8 457.1,370.6 457.7,368.0 458.3,367.8 458.9,368.5 459.5,370.2 460.1,369.5 460.7,371.2 461.3,372.5 461.8,372.3 462.4,371.1 463.0,372.2 463.6,372.5 464.2,372.1 464.8,370.6 465.4,370.8 466.0,371.6 466.6,372.2 467.1,371.3 467.7,370.6 468.3,371.0 468.9,371.0 469.5,370.9 470.1,370.0 470.7,371.0 471.3,370.6 471.9,370.7 472.4,370.1 473.0,369.9 473.6,369.3 474.2,369.3 474.8,369.7 475.4,371.2 476.0,371.8 476.6,373.5 477.2,375.0 477.7,375.2 478.3,373.1 478.9,369.9 479.5,368.6 480.1,367.8 480.7,369.2 481.3,369.8 481.9,369.6 482.5,368.7 483.0,369.0 483.6,370.0 484.2,371.3 484.8,372.7 485.4,374.0 486.0,373.0 486.6,372.0 487.2,371.6 487.8,371.8 488.3,371.8 488.9,370.6 489.5,368.9 490.1,367.8 490.7,369.7 491.3,372.9 491.9,371.8 492.5,369.9 493.1,370.1 493.6,371.4 494.2,372.6 494.8,372.8 495.4,373.6 496.0,372.4 496.6,373.1 497.2,371.1 497.8,370.2 498.4,369.7 498.9,371.5 499.5,372.6 500.1,373.9 500.7,373.5 501.3,371.2 501.9,370.8 502.5,371.1 503.1,372.0 503.7,371.4 504.2,373.6 504.8,373.7 505.4,373.8 506.0,372.6 506.6,375.6 507.2,376.6 507.8,375.1 508.4,370.3 509.0,369.5 509.5,371.5 510.1,373.0 510.7,371.9 511.3,371.9 511.9,372.7 512.5,373.2 513.1,372.3 513.7,371.2 514.3,369.3 514.8,368.8 515.4,369.2 516.0,370.6 516.6,370.8 517.2,372.0 517.8,370.9 518.4,370.5 519.0,369.1 519.6,371.3 520.1,371.3 520.7,371.6 521.3,371.3 521.9,372.4" fill="none" stroke="#00ff00" stroke-width="4.6" stroke-linejoin="round"/>
<polyline points="204.5,42.3 205.1,46.7 205.7,50.4 206.3,54.8 206.9,60.3 207.4,65.7 208.0,71.1 208.6,76.4 209.2,80.4 209.8,83.5 210.4,87.0 211.0,90.3 211.6,93.3 212.2,96.4 212.7,101.1 213.3,105.1 213.9,108.3 214.5,111.2 215.1,115.5 215.7,117.8 216.3,119.4 216.9,121.8 217.5,125.0 218.0,127.3 218.6,129.8 219.2,133.2 219.8,136.1 220.4,138.2 221.0,140.8 221.6,144.0 222.2,146.9 222.8,150.6 223.3,153.4 223.9,155.8 224.5,156.9 225.1,159.3 225.7,161.3 226.3,163.4 226.9,165.5 227.5,167.9 228.1,169.9 228.6,172.2 229.2,173.9 229.8,176.7 230.4,178.8 231.0,180.8 231.6,182.6 232.2,185.1 232.8,186.5 233.4,187.6 233.9,189.9 234.5,193.8 235.1,195.8 235.7,196.7 236.3,196.9 236.9,197.8 237.5,199.4 238.1,201.6 238.7,204.6 239.2,206.4 239.8,208.1 240.4,209.1 241.0,210.3 241.6,212.3 242.2,214.7 242.8,215.8 243.4,217.2 244.0,218.6 244.5,219.7 245.1,220.4 245.7,222.3 246.3,224.0 246.9,225.4 247.5,227.1 248.1,229.4 248.7,230.5 249.3,231.3 249.8,232.0 250.4,234.0 251.0,236.1 251.6,238.3 252.2,239.4 252.8,240.8 253.4,241.7 254.0,242.7 254.6,244.2 255.1,247.5 255.7,250.0 256.3,250.0 256.9,249.4 257.5,250.0 258.1,252.0 258.7,253.1 259.3,255.1 259.9,257.4 260.4,259.5 261.0,259.7 261.6,259.4 262.2,259.5 262.8,260.7 263.4,262.8 264.0,264.0 264.6,264.8 265.2,265.5 265.7,266.9 266.3,268.1 266.9,269.5 267.5,270.8 268.1,272.2 268.7,272.9 269.3,273.5 269.9,273.5 270.5,275.3 271.0,276.1 271.6,277.1 272.2,277.5 272.8,279.4 273.4,280.7 274.0,282.3 274.6,282.5 275.2,282.8 275.8,282.9 276.3,283.7 276.9,284.7 277.5,286.2 278.1,287.6 278.7,287.8 279.3,288.3 279.9,289.0 280.5,290.0 281.1,290.9 281.6,290.9 282.2,292.2 282.8,292.9 283.4,293.6 284.0,294.5 284.6,295.8 285.2,296.8 285.8,296.8 286.4,298.4 286.9,299.5 287.5,300.9 288.1,301.4 288.7,301.5 289.3,301.6 289.9,303.4 290.5,305.7 291.1,306.8 291.7,305.9 292.2,306.0 292.8,307.1 293.4,307.9 294.0,307.8 294.6,307.7 295.2,309.2 295.8,309.5 296.4,310.0 297.0,311.4 297.5,313.5 298.1,314.4 298.7,314.1 299.3,313.8 299.9,314.2 300.5,315.2 301.1,315.2 301.7,315.0 302.3,315.9 302.8,317.5 303.4,318.6 304.0,318.9 304.6,318.8 305.2,319.0 305.8,319.6 306.4,320.4 307.0,320.8 307.6,322.0 308.1,323.0 308.7,324.3 309.3,324.5 309.9,324.5 310.5,324.6 311.1,325.7 311.7,326.7 312.3,327.4 312.9,327.1 313.4,326.8 314.0,327.3 314.6,328.0 315.2,327.7 315.8,327.6 316.4,327.5 317.0,328.3 317.6,328.4 318.2,329.9 318.7,330.3 319.3,331.6 319.9,332.1 320.5,333.0 321.1,333.9 321.7,335.3 322.3,335.0 322.9,333.9 323.5,333.2 324.0,333.9 324.6,336.0 325.2,337.4 325.8,337.7 326.4,337.1 327.0,337.8 327.6,338.3 328.2,338.9 328.8,338.6 329.3,338.1 329.9,338.4 330.5,339.7 331.1,339.8 331.7,339.5 332.3,339.7 332.9,341.1 333.5,342.0 334.1,342.8 334.6,343.6 335.2,343.5 335.8,343.0 336.4,342.9 337.0,344.1 337.6,344.0 338.2,342.9 338.8,342.3 339.4,342.8 339.9,344.6 340.5,345.4 341.1,345.9 341.7,344.9 342.3,345.1 342.9,346.2 343.5,347.3 344.1,347.7 344.7,347.0 345.2,346.6 345.8,346.7 346.4,347.6 347.0,347.8 347.6,348.4 348.2,349.4 348.8,351.0 349.4,350.6 350.0,349.8 350.5,349.0 351.1,349.8 351.7,349.6 352.3,350.4 352.9,350.5 353.5,351.6 354.1,351.9 354.7,353.2 355.3,353.1 355.8,353.1 356.4,352.7 357.0,353.1 357.6,354.0 358.2,354.3 358.8,353.4 359.4,352.5 360.0,353.1 360.6,353.9 361.1,355.2 361.7,355.8 362.3,355.5 362.9,354.5 363.5,355.1 364.1,355.6 364.7,355.8 365.3,355.5 365.9,356.6 366.4,357.3 367.0,357.6 367.6,356.9 368.2,356.6 368.8,356.9 369.4,357.4 370.0,357.7 370.6,357.4 371.2,358.1 371.7,359.0 372.3,359.5 372.9,358.9 373.5,358.4 374.1,359.0 374.7,359.4 375.3,360.6 375.9,360.8 376.5,361.4 377.0,360.8 377.6,360.9 378.2,361.1 378.8,361.3 379.4,361.3 380.0,362.1 380.6,363.1 381.2,363.2 381.8,362.1 382.3,361.0 382.9,359.5 383.5,359.6 384.1,361.0 384.7,362.6 385.3,362.4 385.9,362.0 386.5,362.8 387.1,363.6 387.6,363.7 388.2,364.0 388.8,364.9 389.4,364.4 390.0,364.6 390.6,364.6 391.2,365.1 391.8,363.5 392.4,363.1 392.9,363.7 393.5,364.2 394.1,364.6 394.7,363.5 395.3,363.0 395.9,363.0 396.5,364.0 397.1,364.8 397.7,365.4 398.2,365.6 398.8,365.3 399.4,364.6 400.0,364.6 400.6,364.2 401.2,364.2 401.8,365.0 402.4,366.0 403.0,366.4 403.5,366.5 404.1,366.9 404.7,366.2 405.3,365.6 405.9,364.8 406.5,366.1 407.1,367.0 407.7,368.3 408.3,368.2 408.8,368.5 409.4,368.4 410.0,368.5 410.6,367.5 411.2,366.8 411.8,367.2 412.4,368.9 413.0,369.0 413.6,368.1 414.1,368.3 414.7,368.5 415.3,369.4 415.9,369.9 416.5,369.3 417.1,369.7 417.7,370.5 418.3,370.5 418.9,369.0 419.4,369.6 420.0,370.9 420.6,372.2 421.2,372.8 421.8,372.2 422.4,371.2 423.0,370.6 423.6,370.7 424.2,370.3 424.7,371.3 425.3,371.9 425.9,372.1 426.5,371.4 427.1,371.8 427.7,373.1 428.3,372.9 428.9,371.4 429.5,368.7 430.0,368.4 430.6,368.3 431.2,369.3 431.8,370.2 432.4,371.2 433.0,372.2 433.6,372.2 434.2,372.4 434.8,372.5 435.3,372.1 435.9,371.0 436.5,370.1 437.1,370.6 437.7,370.2 438.3,370.5 438.9,372.3 439.5,374.3 440.1,373.7 440.6,372.5 441.2,373.0 441.8,373.0 442.4,372.5 443.0,370.8 443.6,370.7 444.2,371.3 444.8,372.6 445.4,373.8 445.9,374.3 446.5,374.6 447.1,373.8 447.7,372.2 448.3,372.5 448.9,372.9 449.5,373.5 450.1,373.3 450.7,373.1 451.2,373.1 451.8,372.4 452.4,373.1 453.0,373.9 453.6,374.5 454.2,374.9 454.8,375.6 455.4,376.3 456.0,375.1 456.5,374.5 457.1,375.8 457.7,377.2 458.3,376.6 458.9,374.5 459.5,374.3 460.1,374.9 460.7,374.9 461.3,373.6 461.8,374.1 462.4,373.7 463.0,374.2 463.6,373.1 464.2,373.2 464.8,373.8 465.4,375.5 466.0,375.8 466.6,374.3 467.1,375.0 467.7,376.1 468.3,376.2 468.9,374.7 469.5,375.2 470.1,376.6 470.7,376.6 471.3,376.4 471.9,376.0 472.4,375.4 473.0,374.6 473.6,376.8 474.2,377.3 474.8,375.7 475.4,373.0 476.0,373.2 476.6,375.3 477.2,375.9 477.7,375.6 478.3,374.1 478.9,375.0 479.5,375.7 480.1,376.6 480.7,375.4 481.3,374.7 481.9,375.0 482.5,377.1 483.0,377.3 483.6,376.8 484.2,375.9 484.8,375.6 485.4,375.0 486.0,375.2 486.6,375.9 487.2,376.3 487.8,375.9 488.3,375.5 488.9,375.5 489.5,376.7 490.1,376.8 490.7,376.0 491.3,376.2 491.9,376.9 492.5,377.5 493.1,378.5 493.6,379.2 494.2,377.9 494.8,376.7 495.4,377.6 496.0,377.5 496.6,377.4 497.2,378.1 497.8,379.0 498.4,377.7 498.9,376.5 499.5,376.7 500.1,377.6 500.7,377.9 501.3,377.8 501.9,378.3 502.5,379.2 503.1,378.5 503.7,377.7 504.2,375.3 504.8,374.6 505.4,375.5 506.0,377.8 506.6,377.8 507.2,377.0 507.8,376.7 508.4,376.7 509.0,377.0 509.5,377.1 510.1,375.7 510.7,375.6 511.3,376.9 511.9,377.9 512.5,376.5 513.1,375.6 513.7,375.4 514.3,376.2 514.8,377.2 515.4,377.7 516.0,377.0 516.6,375.7 517.2,374.9 517.8,376.6 518.4,378.0 519.0,379.0 519.6,379.5 520.1,380.1 520.7,379.2 521.3,378.2 521.9,379.4 522.5,380.2 523.1,380.0 523.7,380.0 524.3,379.7 524.9,379.2 525.4,378.2 526.0,378.1 526.6,378.1 527.2,378.9 527.8,380.0 528.4,379.9 529.0,378.2 529.6,377.2 530.2,377.9 530.7,378.6 531.3,379.8 531.9,380.6 532.5,380.8 533.1,379.4 533.7,378.9 534.3,378.9 534.9,379.7 535.5,380.1 536.0,379.6 536.6,379.9 537.2,380.8 537.8,381.1 538.4,378.6 539.0,377.0 539.6,375.9 540.2,375.8 540.8,376.6 541.3,378.1 541.9,379.8 542.5,378.9 543.1,377.9 543.7,376.8 544.3,377.2 544.9,377.3 545.5,377.6 546.1,378.0 546.6,377.5 547.2,377.9 547.8,379.3 548.4,380.2 549.0,378.6 549.6,377.5 550.2,377.9 550.8,378.2 551.4,378.1 551.9,379.4 552.5,381.1 553.1,382.4 553.7,381.5 554.3,380.7 554.9,379.1 555.5,377.3 556.1,377.0 556.7,377.9 557.2,379.5 557.8,381.1 558.4,382.2 559.0,382.0 559.6,379.8 560.2,379.7 560.8,380.3 561.4,380.2 562.0,379.3 562.5,379.1 563.1,380.2 563.7,380.4 564.3,379.1 564.9,377.4 565.5,377.9 566.1,378.3 566.7,378.7 567.3,377.8 567.8,377.9 568.4,378.4 569.0,378.5 569.6,379.6 570.2,379.8 570.8,380.8 571.4,378.8 572.0,376.8 572.6,375.7 573.1,376.7 573.7,378.3 574.3,377.8 574.9,376.7 575.5,375.8 576.1,377.2 576.7,378.6 577.3,379.3 577.9,378.3 578.4,378.4 579.0,378.7 579.6,378.3 580.2,376.7 580.8,375.8 581.4,376.4 582.0,377.0 582.6,377.2 583.2,376.8 583.7,377.1 584.3,378.4 584.9,380.0 585.5,379.5 586.1,378.7 586.7,378.7 587.3,379.2 587.9,379.1 588.5,379.9 589.0,381.0 589.6,380.2 590.2,379.0 590.8,378.2 591.4,377.5 592.0,377.6 592.6,378.0 593.2,378.6 593.8,379.0 594.3,379.1 594.9,378.6 595.5,376.9 596.1,376.4 596.7,377.4 597.3,378.6 597.9,378.8 598.5,377.5 599.1,378.6 599.6,379.6 600.2,380.9 600.8,379.7 601.4,379.1 602.0,379.8 602.6,381.5 603.2,381.3 603.8,378.8 604.4,376.3 604.9,376.7 605.5,377.8 606.1,379.1 606.7,380.1 607.3,379.7 607.9,378.1 608.5,377.5 609.1,378.8 609.7,378.6 610.2,377.9 610.8,378.0 611.4,378.5 612.0,378.6 612.6,378.7 613.2,379.5 613.8,378.9 614.4,378.6 615.0,379.2 615.5,378.8 616.1,376.9 616.7,375.9 617.3,377.3 617.9,378.2 618.5,379.4 619.1,379.8 619.7,379.4 620.3,378.5 620.8,378.3 621.4,378.8 622.0,378.9 622.6,380.0 623.2,379.9 623.8,380.1 624.4,380.0 625.0,380.4 625.6,379.8 626.1,379.2 626.7,378.5 627.3,378.6 627.9,377.9 628.5,377.7 629.1,377.7 629.7,377.7 630.3,378.6 630.9,378.5 631.4,378.9 632.0,377.6 632.6,378.9 633.2,380.2 633.8,381.2 634.4,380.1 635.0,379.0 635.6,378.4 636.2,378.6 636.7,379.2 637.3,380.3 637.9,380.5 638.5,379.5 639.1,377.7 639.7,377.6 640.3,377.6 640.9,378.8 641.5,378.5 642.0,379.5 642.6,378.8 643.2,379.7 643.8,379.8 644.4,380.4 645.0,378.7 645.6,378.0 646.2,377.7 646.8,378.3 647.3,377.7 647.9,377.9 648.5,377.6 649.1,378.5 649.7,379.1 650.3,379.0 650.9,378.5 651.5,378.5 652.1,379.2 652.6,378.6 653.2,378.9 653.8,378.7 654.4,378.6 655.0,377.2 655.6,377.3 656.2,378.6 656.8,378.7 657.4,379.9 657.9,379.4 658.5,378.2 659.1,377.0 659.7,377.7 660.3,377.8 660.9,376.9 661.5,379.2 662.1,380.4 662.7,380.5 663.2,379.1 663.8,379.1 664.4,379.1 665.0,380.7 665.6,381.2 666.2,380.9 666.8,379.1" fill="none" stroke="#0000ff" stroke-width="4.5" stroke-linejoin="round"/>
<polyline points="204.5,41.8 205.1,48.2 205.7,55.9 206.3,63.5 206.9,72.5 207.4,81.1 208.0,90.3 208.6,99.0 209.2,108.6 209.8,115.9 210.4,123.3 211.0,129.7 211.6,136.4 212.2,142.6 212.7,149.8 213.3,155.8 213.9,161.0 214.5,166.0 215.1,171.5 215.7,177.0 216.3,182.1 216.9,187.2 217.5,191.4 218.0,195.7 218.6,200.0 219.2,205.1 219.8,209.1 220.4,213.1 221.0,215.8 221.6,218.2 222.2,221.3 222.8,225.6 223.3,228.2 223.9,230.2 224.5,233.7 225.1,238.6 225.7,242.4 226.3,243.9 226.9,244.9 227.5,247.3 228.1,250.2 228.6,252.5 229.2,254.6 229.8,257.3 230.4,259.5 231.0,260.4 231.6,262.2 232.2,264.5 232.8,266.4 233.4,266.7 233.9,268.7 234.5,270.5 235.1,271.8 235.7,273.8 236.3,276.0 236.9,278.3 237.5,279.2 238.1,281.9 238.7,283.8 239.2,285.2 239.8,285.2 240.4,285.6 241.0,287.4 241.6,288.9 242.2,290.2 242.8,292.2 243.4,293.1 244.0,293.8 244.5,294.5 245.1,296.4 245.7,297.7 246.3,299.5 246.9,300.6 247.5,301.8 248.1,301.2 248.7,302.1 249.3,303.2 249.8,304.8 250.4,304.5 251.0,304.6 251.6,305.6 252.2,305.6 252.8,306.3 253.4,307.4 254.0,307.7 254.6,308.6 255.1,309.8 255.7,311.7 256.3,312.9 256.9,315.2 257.5,315.5 258.1,316.0 258.7,317.0 259.3,317.3 259.9,316.9 260.4,317.5 261.0,319.2 261.6,320.4 262.2,321.8 262.8,322.2 263.4,321.8 264.0,321.7 264.6,320.7 265.2,320.8 265.7,321.6 266.3,322.1 266.9,322.7 267.5,324.7 268.1,327.2 268.7,328.3 269.3,328.1 269.9,327.3 270.5,326.1 271.0,327.6 271.6,329.7 272.2,330.3 272.8,329.3 273.4,329.8 274.0,331.6 274.6,332.1 275.2,331.7 275.8,331.8 276.3,332.7 276.9,334.0 277.5,335.3 278.1,335.1 278.7,334.6 279.3,335.5 279.9,336.6 280.5,336.4 281.1,334.4 281.6,335.1 282.2,336.8 282.8,337.4 283.4,336.5 284.0,337.3 284.6,340.8 285.2,340.9 285.8,340.1 286.4,338.4 286.9,339.9 287.5,341.1 288.1,342.1 288.7,341.6 289.3,342.1 289.9,341.9 290.5,344.2 291.1,345.6 291.7,349.3 292.2,349.3 292.8,347.6 293.4,345.0 294.0,343.2 294.6,344.4 295.2,346.0 295.8,349.5 296.4,349.5 297.0,349.9 297.5,350.8 298.1,351.9 298.7,349.5 299.3,347.4 299.9,346.6 300.5,349.9 301.1,350.9 301.7,351.1 302.3,350.1 302.8,351.0 303.4,352.2 304.0,352.2 304.6,351.0 305.2,349.5 305.8,351.1 306.4,355.3 307.0,357.3 307.6,355.5 308.1,352.8 308.7,351.4 309.3,352.3 309.9,351.7 310.5,351.9 311.1,353.9 311.7,356.0 312.3,355.3 312.9,353.6 313.4,356.5 314.0,358.0 314.6,358.0 315.2,356.5 315.8,355.8 316.4,354.6 317.0,352.8 317.6,352.4 318.2,354.2 318.7,354.7 319.3,355.3 319.9,354.9 320.5,357.0 321.1,359.3 321.7,363.2 322.3,363.3 322.9,361.9 323.5,360.0 324.0,359.2 324.6,360.0 325.2,362.9 325.8,363.8 326.4,361.3 327.0,359.9 327.6,361.1 328.2,363.5 328.8,363.8 329.3,363.7 329.9,362.0 330.5,360.6 331.1,360.4 331.7,361.2 332.3,361.8 332.9,360.7 333.5,359.5 334.1,358.9 334.6,359.3 335.2,360.3 335.8,361.5 336.4,362.9 337.0,363.4 337.6,361.6 338.2,360.1 338.8,358.2 339.4,360.5 339.9,363.2 340.5,367.2 341.1,367.4 341.7,368.8 342.3,366.3 342.9,364.0 343.5,363.7 344.1,365.4 344.7,365.0 345.2,362.1 345.8,361.3 346.4,362.4 347.0,364.7 347.6,365.2 348.2,364.8 348.8,365.5 349.4,367.8 350.0,367.4 350.5,367.0 351.1,366.8 351.7,367.0 352.3,366.0 352.9,365.0 353.5,366.7 354.1,366.7 354.7,368.8 355.3,370.0 355.8,372.1 356.4,370.5 357.0,369.4 357.6,370.1 358.2,369.3 358.8,368.8 359.4,368.3 360.0,369.2 360.6,368.6 361.1,368.5 361.7,367.9 362.3,367.5 362.9,367.1 363.5,368.1 364.1,369.8 364.7,370.9 365.3,371.0 365.9,370.0 366.4,369.9 367.0,369.6 367.6,369.7 368.2,368.7 368.8,371.4 369.4,373.7 370.0,373.3 370.6,369.6 371.2,369.8 371.7,371.6 372.3,372.3 372.9,370.6 373.5,371.4 374.1,374.2 374.7,375.4 375.3,375.7 375.9,375.6 376.5,373.5 377.0,371.4 377.6,371.4 378.2,372.8 378.8,371.7 379.4,370.8 380.0,368.5 380.6,368.7 381.2,368.8 381.8,369.4 382.3,370.3 382.9,370.2 383.5,370.7 384.1,370.8 384.7,369.6 385.3,367.3 385.9,369.0 386.5,371.9 387.1,373.1 387.6,372.7 388.2,374.5 388.8,374.3 389.4,375.2 390.0,373.9 390.6,373.1 391.2,370.6 391.8,368.6 392.4,370.3 392.9,373.9 393.5,377.2 394.1,376.0 394.7,373.7 395.3,372.6 395.9,373.1 396.5,375.3 397.1,375.9 397.7,375.6 398.2,374.5 398.8,375.3 399.4,375.4 400.0,374.3 400.6,372.2 401.2,373.6 401.8,374.0 402.4,372.8 403.0,371.2 403.5,373.6 404.1,376.6 404.7,377.0 405.3,376.3 405.9,376.6 406.5,375.8 407.1,373.0 407.7,371.0 408.3,370.7 408.8,370.5 409.4,372.6 410.0,373.5 410.6,373.6 411.2,372.3 411.8,371.8 412.4,371.1 413.0,370.3 413.6,371.6 414.1,373.0 414.7,375.6 415.3,376.0 415.9,377.2 416.5,377.1 417.1,376.5 417.7,375.4 418.3,377.9 418.9,380.6 419.4,379.3 420.0,377.0 420.6,373.9 421.2,374.6 421.8,374.0 422.4,376.6 423.0,377.2 423.6,377.6 424.2,375.3 424.7,372.6 425.3,371.0 425.9,373.4 426.5,376.1 427.1,376.8 427.7,376.0 428.3,375.6 428.9,373.4 429.5,372.9 430.0,373.1 430.6,372.7 431.2,373.3 431.8,373.5 432.4,372.2 433.0,370.8 433.6,371.4 434.2,372.5 434.8,372.1 435.3,372.9 435.9,374.3 436.5,375.8 437.1,376.3 437.7,376.1 438.3,377.7 438.9,378.7 439.5,379.3 440.1,377.1 440.6,377.5 441.2,377.3 441.8,378.4 442.4,377.9 443.0,377.5 443.6,377.0 444.2,375.0 444.8,375.2 445.4,374.6 445.9,375.8 446.5,375.1 447.1,374.2 447.7,374.5 448.3,375.7 448.9,374.7 449.5,374.2 450.1,373.1 450.7,374.6 451.2,375.4 451.8,379.2 452.4,380.1 453.0,381.0 453.6,380.2 454.2,378.2 454.8,376.0 455.4,376.3 456.0,378.3 456.5,379.1 457.1,379.9 457.7,380.5 458.3,377.7 458.9,374.7 459.5,375.0 460.1,376.8 460.7,374.9 461.3,374.3 461.8,375.9 462.4,378.7 463.0,380.1 463.6,378.7 464.2,372.7 464.8,371.0 465.4,375.7 466.0,378.2 466.6,375.2 467.1,373.1 467.7,373.3 468.3,374.4 468.9,375.3 469.5,375.8 470.1,375.6 470.7,375.8 471.3,376.6 471.9,376.1 472.4,376.2 473.0,378.2 473.6,379.3 474.2,380.3 474.8,379.6 475.4,381.3 476.0,379.2 476.6,377.8 477.2,376.9 477.7,376.5 478.3,374.8 478.9,374.8 479.5,378.7 480.1,379.4 480.7,378.5 481.3,377.0 481.9,377.0 482.5,377.0 483.0,377.2 483.6,376.9 484.2,375.2 484.8,375.9 485.4,375.8 486.0,374.4 486.6,371.9 487.2,373.2 487.8,374.9 488.3,375.7 488.9,374.9 489.5,375.2 490.1,376.6 490.7,377.4 491.3,378.4 491.9,379.1 492.5,378.3 493.1,377.6 493.6,378.7 494.2,379.4 494.8,376.9 495.4,373.4 496.0,375.7 496.6,379.5 497.2,379.7 497.8,376.9 498.4,376.2 498.9,377.2 499.5,377.3 500.1,378.4 500.7,377.4 501.3,377.8 501.9,377.7 502.5,377.0 503.1,374.1 503.7,374.2 504.2,376.2 504.8,378.0 505.4,378.7 506.0,378.9 506.6,376.8 507.2,376.2 507.8,375.9 508.4,376.6 509.0,375.7 509.5,376.6 510.1,376.6 510.7,376.5 511.3,376.3 511.9,377.6 512.5,380.2 513.1,380.1 513.7,377.8 514.3,376.1 514.8,377.5 515.4,377.9 516.0,378.2 516.6,377.7 517.2,376.7 517.8,374.8 518.4,374.5 519.0,377.2 519.6,378.6 520.1,379.2 520.7,376.3 521.3,375.2 521.9,373.9 522.5,375.3 523.1,373.8 523.7,373.7 524.3,375.7 524.9,378.0 525.4,378.7 526.0,376.5 526.6,375.2 527.2,372.6 527.8,373.4 528.4,374.2 529.0,377.2 529.6,379.5 530.2,379.1 530.7,377.5 531.3,376.8 531.9,377.9 532.5,378.9 533.1,379.0 533.7,377.1 534.3,376.1 534.9,377.7 535.5,380.6 536.0,378.7 536.6,377.6 537.2,377.9 537.8,380.7 538.4,378.5 539.0,377.9 539.6,377.1 540.2,377.3 540.8,376.6" fill="none" stroke="#00ffff" stroke-width="4.6" stroke-linejoin="round"/>
<polyline points="204.50,41.53 204.67,42.45 204.84,43.35 205.00,44.26 205.17,45.16 205.34,46.05 205.51,46.95 205.68,47.83 205.85,48.72 206.01,49.60 206.18,50.48 206.35,51.35 206.52,52.22 206.69,53.09 206.86,53.95 207.02,54.81 207.19,55.66 207.36,56.51 207.53,57.36 207.70,58.20 207.87,59.04 208.03,59.88 208.20,60.71 208.37,61.54 208.54,62.37 208.71,63.19 208.87,64.01 209.04,64.82 209.21,65.64 209.38,66.44 209.55,67.25 209.72,68.05 209.88,68.85 210.05,69.65 210.22,70.44 210.39,71.23 210.56,72.01 210.73,72.79 210.89,73.57 211.06,74.35 211.23,75.12 211.40,75.89 211.57,76.65 211.73,77.41 211.90,78.17 212.07,78.93 212.24,79.68 212.41,80.43 212.58,81.18 212.74,81.92 212.91,82.66 213.08,83.40 213.25,84.13 213.42,84.87 213.59,85.59 213.75,86.32 213.92,87.04 214.09,87.76 214.26,88.48 214.43,89.19 214.60,89.90 214.76,90.61 214.93,91.31 215.10,92.02 215.27,92.71 215.44,93.41 215.60,94.10 215.77,94.79 215.94,95.48 216.11,96.17 216.28,96.85 216.45,97.53 216.61,98.21 216.78,98.88 216.95,99.55 217.12,100.22 217.29,100.89 217.46,101.55 217.62,102.21 217.79,102.87 217.96,103.52 218.13,104.18 218.30,104.83 218.47,105.47 218.63,106.12 218.80,106.76 218.97,107.40 219.14,108.04 219.31,108.67 219.47,109.30 219.64,109.93 219.81,110.56 219.98,111.19 220.15,111.81 220.32,112.43 220.48,113.04 220.65,113.66 220.82,114.27 220.99,114.88 221.16,115.49 221.33,116.10 223.01,122.02 224.69,127.72 226.37,133.21 228.06,138.50 229.74,143.59 231.42,148.50 233.10,153.24 234.79,157.81 236.47,162.22 238.15,166.48 239.83,170.60 241.52,174.58 243.20,178.43 244.88,182.16 246.56,185.78 248.25,189.27 249.93,192.67 251.61,195.96 253.29,199.15 254.98,202.25 256.66,205.26 258.34,208.18 260.02,211.03 261.71,213.79 263.39,216.48 265.07,219.10 266.75,221.66 268.44,224.14 270.12,226.57 271.80,228.93 273.48,231.24 275.17,233.49 276.85,235.69 278.53,237.84 280.21,239.94 281.90,241.99 283.58,244.00 285.26,245.96 286.94,247.88 288.63,249.76 290.31,251.61 291.99,253.41 293.67,255.18 295.36,256.91 297.04,258.62 298.72,260.28 300.41,261.92 302.09,263.53 303.77,265.10 305.45,266.65 307.14,268.17 308.82,269.67 310.50,271.14 312.18,272.58 313.87,274.00 315.55,275.40 317.23,276.77 318.91,278.12 320.60,279.45 322.28,280.76 323.96,282.04 325.64,283.31 327.33,284.56 329.01,285.79 330.69,287.00 332.37,288.19 334.06,289.36 335.74,290.52 337.42,291.66 339.10,292.79 340.79,293.89 342.47,294.99 344.15,296.06 345.83,297.13 347.52,298.17 349.20,299.21 350.88,300.23 352.56,301.23 354.25,302.22 355.93,303.20 357.61,304.17 359.29,305.12 360.98,306.06 362.66,306.99 364.34,307.91 366.02,308.81 367.71,309.71 369.39,310.59 371.07,311.46 372.75,312.32 374.44,313.17 376.12,314.00 377.80,314.83 379.48,315.65 381.17,316.45 382.85,317.25 384.53,318.04 386.21,318.82 387.90,319.58 389.58,320.34 391.26,321.09 392.95,321.83 394.63,322.56 396.31,323.29 397.99,324.00 399.68,324.71 401.36,325.40 403.04,326.09 404.72,326.77 406.41,327.44 408.09,328.11 409.77,328.76 411.45,329.41 413.14,330.05 414.82,330.69 416.50,331.31 418.18,331.93 419.87,332.54 421.55,333.15 423.23,333.74 424.91,334.33 426.60,334.92 428.28,335.49 429.96,336.06 431.64,336.62 433.33,337.18 435.01,337.73 436.69,338.27 438.37,338.81 440.06,339.34 441.74,339.87 443.42,340.39 445.10,340.90 446.79,341.41 448.47,341.91 450.15,342.40 451.83,342.89 453.52,343.37 455.20,343.85 456.88,344.32 458.56,344.79 460.25,345.25 461.93,345.71 463.61,346.16 465.29,346.61 466.98,347.05 468.66,347.48 470.34,347.92 472.02,348.34 473.71,348.76 475.39,349.18 477.07,349.59 478.75,350.00 480.44,350.40 482.12,350.80 483.80,351.19 485.49,351.58 487.17,351.96 488.85,352.34 490.53,352.72 492.22,353.09 493.90,353.45 495.58,353.82 497.26,354.17 498.95,354.53 500.63,354.88 502.31,355.22 503.99,355.57 505.68,355.91 507.36,356.24 509.04,356.57 510.72,356.90 512.41,357.22 514.09,357.54 515.77,357.86 517.45,358.17 519.14,358.48 520.82,358.78 522.50,359.08 524.18,359.38 525.87,359.68 527.55,359.97 529.23,360.25 530.91,360.54 532.60,360.82 534.28,361.10 535.96,361.37 537.64,361.65 539.33,361.92 541.01,362.18 542.69,362.44 544.37,362.70 546.06,362.96 547.74,363.21 549.42,363.47 551.10,363.71 552.79,363.96 554.47,364.20 556.15,364.44 557.83,364.68 559.52,364.91 561.20,365.14 562.88,365.37 564.56,365.60 566.25,365.82 567.93,366.04 569.61,366.26 571.29,366.48 572.98,366.69 574.66,366.91 576.34,367.11 578.03,367.32 579.71,367.52 581.39,367.73 583.07,367.93 584.76,368.12 586.44,368.32 588.12,368.51 589.80,368.70 591.49,368.89 593.17,369.08 594.85,369.26 596.53,369.44 598.22,369.62 599.90,369.80 601.58,369.98 603.26,370.15 604.95,370.32 606.63,370.49 608.31,370.66 609.99,370.83 611.68,370.99 613.36,371.15 615.04,371.31 616.72,371.47 618.41,371.63 620.09,371.79 621.77,371.94 623.45,372.09 625.14,372.24 626.82,372.39 628.50,372.53 630.18,372.68 631.87,372.82 633.55,372.96 635.23,373.10 636.91,373.24 638.60,373.38 640.28,373.51 641.96,373.65 643.64,373.78 645.33,373.91 647.01,374.04 648.69,374.17 650.37,374.29 652.06,374.42 653.74,374.54 655.42,374.66 657.10,374.78 658.79,374.90 660.47,375.02 662.15,375.14 663.83,375.25 665.52,375.37 667.20,375.48" fill="none" stroke="#000" stroke-width="1.1"/>
<polyline points="204.50,41.53 204.67,53.99 204.84,64.99 205.00,74.74 205.17,83.40 205.34,91.13 205.51,98.05 205.68,104.28 205.85,109.90 206.01,115.01 206.18,119.65 206.35,123.91 206.52,127.83 206.69,131.45 206.86,134.81 207.02,137.95 207.19,140.89 207.36,143.67 207.53,146.29 207.70,148.77 207.87,151.15 208.03,153.41 208.20,155.59 208.37,157.68 208.54,159.71 208.71,161.66 208.87,163.56 209.04,165.41 209.21,167.20 209.38,168.95 209.55,170.67 209.72,172.34 209.88,173.98 210.05,175.59 210.22,177.17 210.39,178.72 210.56,180.24 210.73,181.74 210.89,183.21 211.06,184.67 211.23,186.10 211.40,187.50 211.57,188.89 211.73,190.26 211.90,191.62 212.07,192.95 212.24,194.26 212.41,195.56 212.58,196.84 212.74,198.11 212.91,199.36 213.08,200.59 213.25,201.81 213.42,203.01 213.59,204.20 213.75,205.38 213.92,206.54 214.09,207.68 214.26,208.81 214.43,209.93 214.60,211.04 214.76,212.13 214.93,213.21 215.10,214.28 215.27,215.33 215.44,216.37 215.60,217.40 215.77,218.42 215.94,219.43 216.11,220.42 216.28,221.40 216.45,222.38 216.61,223.34 216.78,224.29 216.95,225.23 217.12,226.15 217.29,227.07 217.46,227.98 217.62,228.88 217.79,229.76 217.96,230.64 218.13,231.51 218.30,232.36 218.47,233.21 218.63,234.05 218.80,234.88 218.97,235.70 219.14,236.51 219.31,237.31 219.47,238.10 219.64,238.89 219.81,239.66 219.98,240.43 220.15,241.19 220.32,241.94 220.48,242.68 220.65,243.41 220.82,244.14 220.99,244.86 221.16,245.57 221.33,246.27 223.01,252.90 224.69,258.86 226.37,264.25 228.06,269.13 229.74,273.56 231.42,277.60 233.10,281.29 234.79,284.68 236.47,287.80 238.15,290.69 239.83,293.36 241.52,295.85 243.20,298.18 244.88,300.36 246.56,302.41 248.25,304.34 249.93,306.17 251.61,307.91 253.29,309.56 254.98,311.14 256.66,312.65 258.34,314.09 260.02,315.49 261.71,316.82 263.39,318.11 265.07,319.36 266.75,320.57 268.44,321.74 270.12,322.87 271.80,323.98 273.48,325.05 275.17,326.09 276.85,327.11 278.53,328.10 280.21,329.07 281.90,330.01 283.58,330.94 285.26,331.84 286.94,332.72 288.63,333.58 290.31,334.43 291.99,335.25 293.67,336.06 295.36,336.86 297.04,337.63 298.72,338.39 300.41,339.14 302.09,339.87 303.77,340.59 305.45,341.29 307.14,341.98 308.82,342.65 310.50,343.32 312.18,343.97 313.87,344.60 315.55,345.23 317.23,345.84 318.91,346.44 320.60,347.03 322.28,347.61 323.96,348.18 325.64,348.74 327.33,349.29 329.01,349.82 330.69,350.35 332.37,350.87 334.06,351.37 335.74,351.87 337.42,352.36 339.10,352.84 340.79,353.31 342.47,353.77 344.15,354.22 345.83,354.67 347.52,355.11 349.20,355.53 350.88,355.95 352.56,356.37 354.25,356.77 355.93,357.17 357.61,357.56 359.29,357.94 360.98,358.32 362.66,358.69 364.34,359.05 366.02,359.40 367.71,359.75 369.39,360.09 371.07,360.43 372.75,360.76 374.44,361.08 376.12,361.40 377.80,361.71 379.48,362.02 381.17,362.32 382.85,362.61 384.53,362.90 386.21,363.18 387.90,363.46 389.58,363.74 391.26,364.00 392.95,364.27 394.63,364.53 396.31,364.78 397.99,365.03 399.68,365.27 401.36,365.51 403.04,365.75 404.72,365.98 406.41,366.20 408.09,366.43 409.77,366.64 411.45,366.86 413.14,367.07 414.82,367.27 416.50,367.48 418.18,367.68 419.87,367.87 421.55,368.06 423.23,368.25 424.91,368.43 426.60,368.62 428.28,368.79 429.96,368.97 431.64,369.14 433.33,369.31 435.01,369.47 436.69,369.63 438.37,369.79 440.06,369.95 441.74,370.10 443.42,370.25 445.10,370.40 446.79,370.54 448.47,370.68 450.15,370.82 451.83,370.96 453.52,371.09 455.20,371.22 456.88,371.35 458.56,371.48 460.25,371.61 461.93,371.73 463.61,371.85 465.29,371.96 466.98,372.08 468.66,372.19 470.34,372.30 472.02,372.41 473.71,372.52 475.39,372.63 477.07,372.73 478.75,372.83 480.44,372.93 482.12,373.03 483.80,373.12 485.49,373.22 487.17,373.31 488.85,373.40 490.53,373.49 492.22,373.58 493.90,373.66 495.58,373.75 497.26,373.83 498.95,373.91 500.63,373.99 502.31,374.07 503.99,374.14 505.68,374.22 507.36,374.29 509.04,374.36 510.72,374.43 512.41,374.50 514.09,374.57 515.77,374.64 517.45,374.70 519.14,374.77 520.82,374.83 522.08,374.88" fill="none" stroke="#000" stroke-width="1.1"/>
<polyline points="204.50,41.53 204.67,43.02 204.84,44.49 205.00,45.94 205.17,47.38 205.34,48.81 205.51,50.22 205.68,51.62 205.85,53.01 206.01,54.38 206.18,55.74 206.35,57.09 206.52,58.42 206.69,59.74 206.86,61.05 207.02,62.35 207.19,63.64 207.36,64.91 207.53,66.18 207.70,67.43 207.87,68.67 208.03,69.90 208.20,71.12 208.37,72.33 208.54,73.53 208.71,74.72 208.87,75.90 209.04,77.07 209.21,78.23 209.38,79.38 209.55,80.52 209.72,81.65 209.88,82.78 210.05,83.89 210.22,84.99 210.39,86.09 210.56,87.18 210.73,88.26 210.89,89.33 211.06,90.39 211.23,91.45 211.40,92.49 211.57,93.53 211.73,94.56 211.90,95.58 212.07,96.60 212.24,97.61 212.41,98.61 212.58,99.60 212.74,100.59 212.91,101.57 213.08,102.55 213.25,103.51 213.42,104.47 213.59,105.42 213.75,106.37 213.92,107.31 214.09,108.25 214.26,109.17 214.43,110.10 214.60,111.01 214.76,111.92 214.93,112.82 215.10,113.72 215.27,114.62 215.44,115.50 215.60,116.38 215.77,117.26 215.94,118.13 216.11,118.99 216.28,119.85 216.45,120.71 216.61,121.56 216.78,122.40 216.95,123.24 217.12,124.07 217.29,124.90 217.46,125.73 217.62,126.55 217.79,127.36 217.96,128.17 218.13,128.98 218.30,129.78 218.47,130.58 218.63,131.37 218.80,132.16 218.97,132.94 219.14,133.72 219.31,134.50 219.47,135.27 219.64,136.04 219.81,136.80 219.98,137.56 220.15,138.31 220.32,139.06 220.48,139.81 220.65,140.56 220.82,141.30 220.99,142.03 221.16,142.76 221.33,143.49 223.01,150.59 224.69,157.36 226.37,163.84 228.06,170.06 229.74,176.03 231.42,181.78 233.10,187.33 234.79,192.68 236.47,197.86 238.15,202.86 239.83,207.71 241.52,212.41 243.20,216.96 244.88,221.38 246.56,225.66 248.25,229.82 249.93,233.87 251.61,237.79 253.29,241.61 254.98,245.32 256.66,248.92 258.34,252.43 260.02,255.83 261.71,259.15 263.39,262.37 265.07,265.50 266.75,268.55 268.44,271.51 270.12,274.40 271.80,277.20 273.48,279.93 275.17,282.59 276.85,285.17 278.53,287.68 280.21,290.13 281.90,292.51 283.58,294.82 285.26,297.07 286.94,299.26 288.63,301.39 290.31,303.47 291.99,305.48 293.67,307.45 295.36,309.36 297.04,311.22 298.72,313.02 300.41,314.78 302.09,316.49 303.77,318.16 305.45,319.78 307.14,321.36 308.82,322.89 310.50,324.38 312.18,325.84 313.87,327.25 315.55,328.62 317.23,329.96 318.91,331.26 320.60,332.53 322.28,333.76 323.96,334.96 325.64,336.13 327.33,337.26 329.01,338.37 330.69,339.44 332.37,340.49 334.06,341.50 335.74,342.49 337.42,343.46 339.10,344.39 340.79,345.31 342.47,346.19 344.15,347.06 345.83,347.90 347.52,348.71 349.20,349.51 350.88,350.28 352.56,351.03 354.25,351.77 355.93,352.48 357.61,353.17 359.29,353.85 360.98,354.50 362.66,355.14 364.34,355.76 366.02,356.37 367.71,356.96 369.39,357.53 371.07,358.09 372.75,358.63 374.44,359.18 376.12,359.71 377.80,360.23 379.48,360.74 381.17,361.24 382.85,361.72 384.53,362.19 386.21,362.65 387.90,363.09 389.58,363.53 391.26,363.95 392.95,364.36 394.63,364.77 396.31,365.16 397.99,365.54 399.68,365.91 401.36,366.27 403.04,366.63 404.72,366.97 406.41,367.31 408.09,367.64 409.77,367.95 411.45,368.27 413.14,368.57 414.82,368.87 416.50,369.15 418.18,369.43 419.87,369.71 421.55,369.98 423.23,370.24 424.91,370.49 426.60,370.74 428.28,370.98 429.96,371.22 431.64,371.45 433.33,371.67 435.01,371.89 436.69,372.11 438.37,372.31 440.06,372.52 441.74,372.72 443.42,372.91 445.10,373.10 446.79,373.28 448.47,373.47 450.15,373.64 451.83,373.81 453.52,373.98 455.20,374.15 456.88,374.31 458.56,374.46 460.25,374.62 461.93,374.76 463.61,374.91 465.29,375.05 466.98,375.19 468.66,375.33 470.34,375.46 472.02,375.59 473.71,375.72 475.39,375.84 477.07,375.97 478.75,376.08 480.44,376.20 482.12,376.32 483.80,376.43 485.49,376.54 487.17,376.64 488.85,376.75 490.53,376.85 492.22,376.95 493.90,377.05 495.58,377.14 497.26,377.24 498.95,377.33 500.63,377.40 502.31,377.46 503.99,377.53 505.68,377.59 507.36,377.65 509.04,377.71 510.72,377.76 512.41,377.82 514.09,377.88 515.77,377.93 517.45,377.98 519.14,378.03 520.82,378.08 522.50,378.13 524.18,378.17 525.87,378.22 527.55,378.26 529.23,378.30 530.91,378.34 532.60,378.38 534.28,378.42 535.96,378.46 537.64,378.50 539.33,378.53 541.01,378.57 542.69,378.60 544.37,378.64 546.06,378.67 547.74,378.70 549.42,378.73 551.10,378.76 552.79,378.79 554.47,378.82 556.15,378.85 557.83,378.87 559.52,378.88 561.20,378.88 562.88,378.89 564.56,378.89 566.25,378.89 567.93,378.89 569.61,378.89 571.29,378.89 572.98,378.90 574.66,378.89 576.34,378.89 578.03,378.89 579.71,378.89 581.39,378.89 583.07,378.88 584.76,378.88 586.44,378.88 588.12,378.87 589.80,378.87 591.49,378.86 593.17,378.86 594.85,378.85 596.53,378.84 598.22,378.84 599.90,378.83 601.58,378.82 603.26,378.81 604.95,378.81 606.63,378.80 608.31,378.79 609.99,378.78 611.68,378.77 613.36,378.76 615.04,378.75 616.72,378.74 618.41,378.73 620.09,378.72 621.77,378.71 623.45,378.69 625.14,378.68 626.82,378.67 628.50,378.66 630.18,378.65 631.87,378.63 633.55,378.62 635.23,378.61 636.91,378.59 638.60,378.58 640.28,378.57 641.96,378.55 643.64,378.54 645.33,378.52 647.01,378.51 648.69,378.49 650.37,378.48 652.06,378.46 653.74,378.45 655.42,378.43 657.10,378.42 658.79,378.40 660.47,378.39 662.15,378.37 663.83,378.36 665.52,378.34 667.20,378.32" fill="none" stroke="#000" stroke-width="1.1"/>
<polyline points="204.50,41.53 204.67,43.09 204.84,44.86 205.00,46.81 205.17,48.91 205.34,51.12 205.51,53.42 205.68,55.80 205.85,58.23 206.01,60.71 206.18,63.21 206.35,65.74 206.52,68.28 206.69,70.82 206.86,73.36 207.02,75.90 207.19,78.42 207.36,80.94 207.53,83.44 207.70,85.92 207.87,88.38 208.03,90.82 208.20,93.24 208.37,95.63 208.54,98.01 208.71,100.35 208.87,102.67 209.04,104.97 209.21,107.24 209.38,109.49 209.55,111.71 209.72,113.90 209.88,116.07 210.05,118.22 210.22,120.34 210.39,122.43 210.56,124.50 210.73,126.54 210.89,128.56 211.06,130.56 211.23,132.53 211.40,134.48 211.57,136.41 211.73,138.31 211.90,140.19 212.07,142.05 212.24,143.89 212.41,145.70 212.58,147.49 212.74,149.27 212.91,151.02 213.08,152.75 213.25,154.46 213.42,156.15 213.59,157.82 213.75,159.47 213.92,161.10 214.09,162.71 214.26,164.30 214.43,165.88 214.60,167.43 214.76,168.97 214.93,170.49 215.10,171.99 215.27,173.48 215.44,174.95 215.60,176.40 215.77,177.83 215.94,179.25 216.11,180.65 216.28,182.04 216.45,183.41 216.61,184.77 216.78,186.11 216.95,187.43 217.12,188.74 217.29,190.04 217.46,191.32 217.62,192.58 217.79,193.84 217.96,195.08 218.13,196.30 218.30,197.51 218.47,198.71 218.63,199.90 218.80,201.07 218.97,202.23 219.14,203.37 219.31,204.51 219.47,205.63 219.64,206.74 219.81,207.84 219.98,208.92 220.15,210.00 220.32,211.06 220.48,212.11 220.65,213.15 220.82,214.18 220.99,215.20 221.16,216.21 221.33,217.20 223.01,226.62 224.69,235.13 226.37,242.83 228.06,249.83 229.74,256.21 231.42,262.05 233.10,267.40 234.79,272.34 236.47,276.90 238.15,281.13 239.83,285.06 241.52,288.72 243.20,292.15 244.88,295.37 246.56,298.40 248.25,301.26 249.93,303.96 251.61,306.52 253.29,308.95 254.98,311.27 256.66,313.47 258.34,315.58 260.02,317.59 261.71,319.52 263.39,321.37 265.07,323.15 266.75,324.86 268.44,326.50 270.12,328.08 271.80,329.60 273.48,331.07 275.17,332.49 276.85,333.86 278.53,335.19 280.21,336.47 281.90,337.70 283.58,338.90 285.26,340.06 286.94,341.18 288.63,342.26 290.31,343.32 291.99,344.33 293.67,345.32 295.36,346.28 297.04,347.20 298.72,348.10 300.41,348.97 302.09,349.82 303.77,350.64 305.45,351.43 307.14,352.20 308.82,352.95 310.50,353.67 312.18,354.38 313.87,355.06 315.55,355.72 317.23,356.36 318.91,356.98 320.60,357.59 322.28,358.17 323.96,358.74 325.64,359.29 327.33,359.83 329.01,360.35 330.69,360.85 332.37,361.34 334.06,361.82 335.74,362.28 337.42,362.72 339.10,363.16 340.79,363.58 342.47,363.99 344.15,364.38 345.83,364.77 347.52,365.14 349.20,365.50 350.88,365.86 352.56,366.20 354.25,366.53 355.93,366.85 357.61,367.16 359.29,367.46 360.98,367.76 362.66,368.04 364.34,368.32 366.02,368.59 367.71,368.85 369.39,369.10 371.07,369.35 372.75,369.58 374.44,369.82 376.12,370.04 377.80,370.26 379.48,370.47 381.17,370.67 382.85,370.87 384.53,371.07 386.21,371.25 387.90,371.43 389.58,371.61 391.26,371.78 392.95,371.95 394.63,372.11 396.31,372.27 397.99,372.42 399.68,372.57 401.36,372.71 403.04,372.85 404.72,372.98 406.41,373.11 408.09,373.24 409.77,373.36 411.45,373.48 413.14,373.60 414.82,373.71 416.50,373.82 418.18,373.93 419.87,374.03 421.55,374.13 423.23,374.23 424.91,374.32 426.60,374.41 428.28,374.50 429.96,374.59 431.64,374.67 433.33,374.75 435.01,374.83 436.69,374.90 438.37,374.98 440.06,375.05 441.74,375.12 443.42,375.19 445.10,375.25 446.79,375.32 448.47,375.38 450.15,375.44 451.83,375.50 453.52,375.55 455.20,375.61 456.88,375.66 458.56,375.71 460.25,375.76 461.93,375.81 463.61,375.86 465.29,375.90 466.98,375.95 468.66,375.99 470.34,376.03 472.02,376.07 473.71,376.11 475.39,376.15 477.07,376.19 478.75,376.23 480.44,376.26 482.12,376.29 483.80,376.33 485.49,376.36 487.17,376.39 488.85,376.42 490.53,376.45 492.22,376.48 493.90,376.51 495.58,376.53 497.26,376.56 498.95,376.58 500.63,376.61 502.31,376.63 503.99,376.65 505.68,376.68 507.36,376.70 509.04,376.72 510.72,376.74 512.41,376.76 514.09,376.78 515.77,376.80 517.45,376.82 519.14,376.83 520.82,376.85 522.50,376.87 524.18,376.88 525.87,376.90 527.55,376.91 529.23,376.93 530.91,376.94 532.60,376.96 534.28,376.97 535.96,376.98 537.64,376.99 539.33,377.01 541.01,377.02" fill="none" stroke="#000" stroke-width="1.1"/>
</g>
<line x1="865.59" y1="505.60" x2="865.59" y2="527.40" stroke="#008000" stroke-width="1.7" />
<line x1="857.79" y1="505.60" x2="873.39" y2="505.60" stroke="#008000" stroke-width="1.7" />
<line x1="857.79" y1="527.40" x2="873.39" y2="527.40" stroke="#008000" stroke-width="1.7" />
<line x1="923.58" y1="473.50" x2="923.58" y2="551.00" stroke="#008000" stroke-width="1.7" />
<line x1="915.78" y1="473.50" x2="931.38" y2="473.50" stroke="#008000" stroke-width="1.7" />
<line x1="915.78" y1="477.50" x2="931.38" y2="477.50" stroke="#008000" stroke-width="1.7" />
<line x1="915.78" y1="551.00" x2="931.38" y2="551.00" stroke="#008000" stroke-width="1.7" />
<line x1="1039.56" y1="489.90" x2="1039.56" y2="514.80" stroke="#008000" stroke-width="1.7" />
<line x1="1031.76" y1="489.90" x2="1047.36" y2="489.90" stroke="#008000" stroke-width="1.7" />
<line x1="1031.76" y1="512.10" x2="1047.36" y2="512.10" stroke="#008000" stroke-width="1.7" />
<line x1="1031.76" y1="514.80" x2="1047.36" y2="514.80" stroke="#008000" stroke-width="1.7" />
<rect x="857.79" y="508.20" width="15.60" height="15.60" fill="#008000"/>
<rect x="915.78" y="504.20" width="15.60" height="15.60" fill="#008000"/>
<rect x="1031.76" y="494.20" width="15.60" height="15.60" fill="#008000"/>
<rect x="1263.71" y="497.00" width="15.60" height="15.60" fill="#008000"/>
<polyline points="865.59,513.10 1271.51,504.40" fill="none" stroke="#008000" stroke-width="2.9" stroke-linejoin="round"/>
<line x1="865.59" y1="450.90" x2="865.59" y2="493.60" stroke="#ff0000" stroke-width="1.7" />
<line x1="858.29" y1="450.90" x2="872.89" y2="450.90" stroke="#ff0000" stroke-width="1.7" />
<line x1="858.29" y1="493.60" x2="872.89" y2="493.60" stroke="#ff0000" stroke-width="1.7" />
<line x1="923.58" y1="443.70" x2="923.58" y2="477.00" stroke="#ff0000" stroke-width="1.7" />
<line x1="916.28" y1="443.70" x2="930.88" y2="443.70" stroke="#ff0000" stroke-width="1.7" />
<line x1="916.28" y1="477.00" x2="930.88" y2="477.00" stroke="#ff0000" stroke-width="1.7" />
<line x1="1039.56" y1="405.80" x2="1039.56" y2="512.90" stroke="#ff0000" stroke-width="1.7" />
<line x1="1032.26" y1="405.80" x2="1046.86" y2="405.80" stroke="#ff0000" stroke-width="1.7" />
<line x1="1032.26" y1="512.90" x2="1046.86" y2="512.90" stroke="#ff0000" stroke-width="1.7" />
<rect x="858.29" y="465.50" width="14.60" height="14.60" fill="#ff0000"/>
<rect x="916.28" y="453.00" width="14.60" height="14.60" fill="#ff0000"/>
<rect x="1032.26" y="451.70" width="14.60" height="14.60" fill="#ff0000"/>
<polyline points="865.59,468.90 1032.00,450.50" fill="none" stroke="#ff0000" stroke-width="2.6" stroke-linejoin="round"/>
<line x1="915.78" y1="473.50" x2="931.38" y2="473.50" stroke="#008000" stroke-width="1.7" />
<line x1="915.78" y1="477.50" x2="931.38" y2="477.50" stroke="#008000" stroke-width="1.7" />
<line x1="865.59" y1="340.80" x2="865.59" y2="355.50" stroke="#00ff00" stroke-width="1.7" />
<line x1="858.29" y1="340.80" x2="872.89" y2="340.80" stroke="#00ff00" stroke-width="1.7" />
<line x1="858.29" y1="355.50" x2="872.89" y2="355.50" stroke="#00ff00" stroke-width="1.7" />
<line x1="923.58" y1="236.60" x2="923.58" y2="331.80" stroke="#00ff00" stroke-width="1.7" />
<line x1="916.28" y1="236.60" x2="930.88" y2="236.60" stroke="#00ff00" stroke-width="1.7" />
<line x1="916.28" y1="331.80" x2="930.88" y2="331.80" stroke="#00ff00" stroke-width="1.7" />
<line x1="1039.56" y1="193.30" x2="1039.56" y2="216.70" stroke="#00ff00" stroke-width="1.7" />
<line x1="1032.26" y1="193.30" x2="1046.86" y2="193.30" stroke="#00ff00" stroke-width="1.7" />
<line x1="1032.26" y1="216.70" x2="1046.86" y2="216.70" stroke="#00ff00" stroke-width="1.7" />
<line x1="1271.51" y1="49.30" x2="1271.51" y2="94.20" stroke="#00ff00" stroke-width="1.7" />
<line x1="1264.21" y1="49.30" x2="1278.81" y2="49.30" stroke="#00ff00" stroke-width="1.7" />
<line x1="1264.21" y1="94.20" x2="1278.81" y2="94.20" stroke="#00ff00" stroke-width="1.7" />
<rect x="858.09" y="340.50" width="15.00" height="15.00" fill="#00ff00"/>
<rect x="916.08" y="276.90" width="15.00" height="15.00" fill="#00ff00"/>
<rect x="1032.06" y="198.00" width="15.00" height="15.00" fill="#00ff00"/>
<rect x="1264.01" y="63.50" width="15.00" height="15.00" fill="#00ff00"/>
<line x1="865.59" y1="239.40" x2="865.59" y2="370.60" stroke="#ff8000" stroke-width="1.7" />
<line x1="858.29" y1="239.40" x2="872.89" y2="239.40" stroke="#ff8000" stroke-width="1.7" />
<line x1="858.29" y1="370.60" x2="872.89" y2="370.60" stroke="#ff8000" stroke-width="1.7" />
<line x1="923.58" y1="224.50" x2="923.58" y2="264.20" stroke="#ff8000" stroke-width="1.7" />
<line x1="916.28" y1="224.50" x2="930.88" y2="224.50" stroke="#ff8000" stroke-width="1.7" />
<line x1="916.28" y1="264.20" x2="930.88" y2="264.20" stroke="#ff8000" stroke-width="1.7" />
<line x1="1039.56" y1="179.30" x2="1039.56" y2="260.70" stroke="#ff8000" stroke-width="1.7" />
<line x1="1032.26" y1="179.30" x2="1046.86" y2="179.30" stroke="#ff8000" stroke-width="1.7" />
<line x1="1032.26" y1="260.70" x2="1046.86" y2="260.70" stroke="#ff8000" stroke-width="1.7" />
<line x1="1271.51" y1="128.20" x2="1271.51" y2="204.50" stroke="#ff8000" stroke-width="1.7" />
<line x1="1264.21" y1="128.20" x2="1278.81" y2="128.20" stroke="#ff8000" stroke-width="1.7" />
<line x1="1264.21" y1="204.50" x2="1278.81" y2="204.50" stroke="#ff8000" stroke-width="1.7" />
<rect x="858.29" y="298.00" width="14.60" height="14.60" fill="#ff8000"/>
<rect x="916.28" y="236.50" width="14.60" height="14.60" fill="#ff8000"/>
<rect x="1032.26" y="212.60" width="14.60" height="14.60" fill="#ff8000"/>
<rect x="1264.21" y="159.10" width="14.60" height="14.60" fill="#ff8000"/>
<polyline points="865.59,306.48 867.63,303.06 869.67,299.78 871.71,296.64 873.75,293.62 875.79,290.72 877.83,287.93 879.87,285.24 881.91,282.66 883.95,280.17 885.99,277.76 888.03,275.44 890.07,273.20 892.11,271.04 894.15,268.95 896.19,266.92 898.23,264.96 900.27,263.07 902.31,261.23 904.35,259.45 906.39,257.72 908.43,256.04 910.47,254.42 912.51,252.84 914.55,251.30 916.59,249.81 918.63,248.36 920.67,246.95 922.71,245.58 924.75,244.24 926.79,242.94 928.83,241.67 930.87,240.44 932.91,239.23 934.95,238.06 936.99,236.91 939.03,235.80 941.06,234.71 943.10,233.64 945.14,232.60 947.18,231.59 949.22,230.59 951.26,229.62 953.30,228.68 955.34,227.75 957.38,226.84 959.42,225.96 961.46,225.09 963.50,224.24 965.54,223.41 967.58,222.59 969.62,221.80 971.66,221.02 973.70,220.25 975.74,219.50 977.78,218.76 979.82,218.04 981.86,217.34 983.90,216.64 985.94,215.96 987.98,215.30 990.02,214.64 992.06,214.00 994.10,213.37 996.14,212.75 998.18,212.14 1000.22,211.54 1002.26,210.95 1004.30,210.38 1006.34,209.81 1008.38,209.25 1010.42,208.71 1012.46,208.17 1014.50,207.64 1016.54,207.12 1018.58,206.61 1020.62,206.10 1022.66,205.61 1024.70,205.12 1026.73,204.64 1028.77,204.17 1030.81,203.70 1032.85,203.25 1034.89,202.80 1036.93,202.35 1038.97,201.92 1041.01,201.49 1043.05,201.06 1045.09,200.65 1047.13,200.24 1049.17,199.83 1051.21,199.43 1053.25,199.04 1055.29,198.65 1057.33,198.27 1059.37,197.89 1061.41,197.52 1063.45,197.15 1065.49,196.79 1067.53,196.44 1069.57,196.09 1071.61,195.74 1073.65,195.40 1075.69,195.06 1077.73,194.73 1079.77,194.40 1081.81,194.08 1083.85,193.76 1085.89,193.44 1087.93,193.13 1089.97,192.82 1092.01,192.52 1094.05,192.22 1096.09,191.92 1098.13,191.63 1100.17,191.34 1102.21,191.06 1104.25,190.77 1106.29,190.50 1108.33,190.22 1110.37,189.95 1112.40,189.68 1114.44,189.42 1116.48,189.15 1118.52,188.89 1120.56,188.64 1122.60,188.39 1124.64,188.14 1126.68,187.89 1128.72,187.64 1130.76,187.40 1132.80,187.16 1134.84,186.93 1136.88,186.69 1138.92,186.46 1140.96,186.24 1143.00,186.01 1145.04,185.79 1147.08,185.57 1149.12,185.35 1151.16,185.13 1153.20,184.92 1155.24,184.70 1157.28,184.50 1159.32,184.29 1161.36,184.08 1163.40,183.88 1165.44,183.68 1167.48,183.48 1169.52,183.28 1171.56,183.09 1173.60,182.90 1175.64,182.71 1177.68,182.52 1179.72,182.33 1181.76,182.14 1183.80,181.96 1185.84,181.78 1187.88,181.60 1189.92,181.42 1191.96,181.25 1194.00,181.07 1196.04,180.90 1198.07,180.73 1200.11,180.56 1202.15,180.39 1204.19,180.22 1206.23,180.06 1208.27,179.90 1210.31,179.73 1212.35,179.57 1214.39,179.41 1216.43,179.26 1218.47,179.10 1220.51,178.95 1222.55,178.79 1224.59,178.64 1226.63,178.49 1228.67,178.34 1230.71,178.20 1232.75,178.05 1234.79,177.90 1236.83,177.76 1238.87,177.62 1240.91,177.48 1242.95,177.34 1244.99,177.20 1247.03,177.06 1249.07,176.92 1251.11,176.79 1253.15,176.65 1255.19,176.52 1257.23,176.39 1259.27,176.26 1261.31,176.13 1263.35,176.00 1265.39,175.87 1267.43,175.74 1269.47,175.62 1271.51,175.49" fill="none" stroke="#ff8000" stroke-width="2.6" stroke-linejoin="round"/>
<polyline points="865.59,345.00 1271.51,50.30" fill="none" stroke="#00ff00" stroke-width="2.6" stroke-linejoin="round"/>
<line x1="828.60" y1="10.39" x2="1302.30" y2="10.39" stroke="#000" stroke-width="2.6" />
<line x1="836.60" y1="10.39" x2="836.60" y2="572.80" stroke="#000" stroke-width="2.6" />
<line x1="1300.50" y1="10.39" x2="1300.50" y2="572.80" stroke="#000" stroke-width="2.6" />
<line x1="821.50" y1="571.00" x2="1302.30" y2="571.00" stroke="#000" stroke-width="2.6" />
<line x1="821.50" y1="446.42" x2="836.60" y2="446.42" stroke="#000" stroke-width="2.6" />
<line x1="821.50" y1="321.84" x2="836.60" y2="321.84" stroke="#000" stroke-width="2.6" />
<line x1="821.50" y1="197.26" x2="836.60" y2="197.26" stroke="#000" stroke-width="2.6" />
<line x1="821.50" y1="72.68" x2="836.60" y2="72.68" stroke="#000" stroke-width="2.6" />
<line x1="829.00" y1="508.71" x2="836.60" y2="508.71" stroke="#000" stroke-width="2.6" />
<line x1="829.00" y1="384.13" x2="836.60" y2="384.13" stroke="#000" stroke-width="2.6" />
<line x1="829.00" y1="259.55" x2="836.60" y2="259.55" stroke="#000" stroke-width="2.6" />
<line x1="829.00" y1="134.97" x2="836.60" y2="134.97" stroke="#000" stroke-width="2.6" />
<line x1="923.58" y1="571.00" x2="923.58" y2="586.50" stroke="#000" stroke-width="2.6" />
<line x1="1039.56" y1="571.00" x2="1039.56" y2="586.50" stroke="#000" stroke-width="2.6" />
<line x1="1155.53" y1="571.00" x2="1155.53" y2="586.50" stroke="#000" stroke-width="2.6" />
<line x1="1271.51" y1="571.00" x2="1271.51" y2="586.50" stroke="#000" stroke-width="2.6" />
<line x1="865.59" y1="571.00" x2="865.59" y2="577.50" stroke="#000" stroke-width="2.6" />
<line x1="981.57" y1="571.00" x2="981.57" y2="577.50" stroke="#000" stroke-width="2.6" />
<line x1="1097.54" y1="571.00" x2="1097.54" y2="577.50" stroke="#000" stroke-width="2.6" />
<line x1="1213.52" y1="571.00" x2="1213.52" y2="577.50" stroke="#000" stroke-width="2.6" />
<g transform="translate(4.755,33.137) scale(0.44848,0.43676)"><text font-family='Liberation Sans' font-weight='bold' font-size='100'>A</text></g>
<g transform="translate(696.797,32.400) scale(0.41475,0.42609)"><text font-family='Liberation Sans' font-weight='bold' font-size='100'>B</text></g>
<g transform="translate(108.308,54.419) scale(0.39920,0.38082)"><path transform='translate(0.0,0)' d='M27.5,0 L40.8,0 L40.8,-71.6 L29.5,-71.6 Q24,-59 9.7,-51.8 L9.7,-40.2 Q19.5,-43.5 27.5,-48.6 Z'/><text x='55.6' font-family='Liberation Sans' font-weight='bold' font-size='100'>.</text><text x='83.4' font-family='Liberation Sans' font-weight='bold' font-size='100'>0</text></g>
<g transform="translate(109.336,223.310) scale(0.39091,0.39014)"><text font-family='Liberation Sans' font-weight='bold' font-size='100'>0.5</text></g>
<g transform="translate(109.334,392.408) scale(0.39160,0.39155)"><text font-family='Liberation Sans' font-weight='bold' font-size='100'>0.0</text></g>
<g transform="translate(87.939,466.614) scale(0.39037,0.38592)"><text font-family='Liberation Sans' font-weight='bold' font-size='100'>0.02</text></g>
<g transform="translate(87.930,523.430) scale(0.39247,0.37042)"><text font-family='Liberation Sans' font-weight='bold' font-size='100'>0.00</text></g>
<g transform="translate(76.464,582.113) scale(0.38409,0.38732)"><text font-family='Liberation Sans' font-weight='bold' font-size='100'>-0.02</text></g>
<g transform="translate(191.917,640.111) scale(0.39574,0.38873)"><text font-family='Liberation Sans' font-weight='bold' font-size='100'>0</text></g>
<g transform="translate(264.982,640.122) scale(0.39175,0.37808)"><path transform='translate(0.0,0)' d='M27.5,0 L40.8,0 L40.8,-71.6 L29.5,-71.6 Q24,-59 9.7,-51.8 L9.7,-40.2 Q19.5,-43.5 27.5,-48.6 Z'/><text x='55.6' font-family='Liberation Sans' font-weight='bold' font-size='100'>0</text></g>
<g transform="translate(349.832,640.111) scale(0.38942,0.38873)"><text font-family='Liberation Sans' font-weight='bold' font-size='100'>20</text></g>
<g transform="translate(435.338,640.111) scale(0.38095,0.38873)"><text font-family='Liberation Sans' font-weight='bold' font-size='100'>30</text></g>
<g transform="translate(518.229,640.111) scale(0.38571,0.38873)"><text font-family='Liberation Sans' font-weight='bold' font-size='100'>40</text></g>
<g transform="translate(602.435,640.111) scale(0.38846,0.38873)"><text font-family='Liberation Sans' font-weight='bold' font-size='100'>50</text></g>
<g transform="translate(357.589,697.277) scale(0.41064,0.41064)"><text font-family='Liberation Sans' font-weight='bold' font-size='100'>Time (s)</text></g>
<g transform="translate(34.574,326.970) rotate(-90) scale(0.42429,0.42568)"><text font-family='Liberation Sans' font-weight='bold' font-size='100'>Normalised</text></g>
<g transform="translate(88.081,348.974) rotate(-90) scale(0.42492,0.41892)"><text font-family='Liberation Sans' font-weight='bold' font-size='100'>Fluorescence</text></g>
<g transform="translate(757.264,83.310) scale(0.38409,0.39014)"><text font-family='Liberation Sans' font-weight='bold' font-size='100'>0.8</text></g>
<g transform="translate(757.458,207.607) scale(0.38550,0.39296)"><text font-family='Liberation Sans' font-weight='bold' font-size='100'>0.6</text></g>
<g transform="translate(757.504,332.417) scale(0.37407,0.38310)"><text font-family='Liberation Sans' font-weight='bold' font-size='100'>0.4</text></g>
<g transform="translate(757.458,457.107) scale(0.38550,0.39296)"><text font-family='Liberation Sans' font-weight='bold' font-size='100'>0.2</text></g>
<g transform="translate(757.458,582.417) scale(0.38550,0.38310)"><text font-family='Liberation Sans' font-weight='bold' font-size='100'>0.0</text></g>
<g transform="translate(896.056,625.606) scale(0.38593,0.39437)"><text font-family='Liberation Sans' font-weight='bold' font-size='100'>0.4</text></g>
<g transform="translate(1012.591,625.606) scale(0.37727,0.39437)"><text font-family='Liberation Sans' font-weight='bold' font-size='100'>0.8</text></g>
<g transform="translate(1126.608,625.900) scale(0.39920,0.38472)"><path transform='translate(0.0,0)' d='M27.5,0 L40.8,0 L40.8,-71.6 L29.5,-71.6 Q24,-59 9.7,-51.8 L9.7,-40.2 Q19.5,-43.5 27.5,-48.6 Z'/><text x='55.6' font-family='Liberation Sans' font-weight='bold' font-size='100'>.</text><text x='83.4' font-family='Liberation Sans' font-weight='bold' font-size='100'>2</text></g>
<g transform="translate(1242.692,625.521) scale(0.40080,0.37945)"><path transform='translate(0.0,0)' d='M27.5,0 L40.8,0 L40.8,-71.6 L29.5,-71.6 Q24,-59 9.7,-51.8 L9.7,-40.2 Q19.5,-43.5 27.5,-48.6 Z'/><text x='55.6' font-family='Liberation Sans' font-weight='bold' font-size='100'>.</text><text x='83.4' font-family='Liberation Sans' font-weight='bold' font-size='100'>6</text></g>
<g transform="translate(968.513,698.133) scale(0.41452,0.40319)"><text font-family='Liberation Sans' font-weight='bold' font-size='100'>[FLV] (</text></g>
<g transform="translate(1100.600,679.400) scale(0.27317,0.27400)"><g transform='scale(3.65)'><path d='M1.0,0 L5.6,0 L5.6,13.5 Q6.2,17.2 9.5,17.2 Q13.2,17.2 14.4,13.5 L14.4,0 L18.6,0 L18.6,15.5 Q18.9,17.0 20.0,16.4 L22.5,14.4 L22.6,15.6 Q20.5,18.8 18.0,18.9 Q15.6,19.0 14.6,16.4 Q12.8,19.0 9.6,19.0 Q6.8,19.0 5.4,17.5 Q5.2,20.5 4.6,22.5 Q5.2,24 4.6,26 Q3.8,27.4 2.3,27.4 Q0,27.4 0,25 Q0,23.5 1.0,21.5 Z'/></g></g>
<g transform="translate(1120.960,698.011) scale(0.40571,0.40426)"><text font-family='Liberation Sans' font-weight='bold' font-size='100'>M)</text></g>
<g transform="translate(729.000,384.707) rotate(-90) scale(0.50351,0.49726)"><text font-family='Liberation Sans' font-weight='bold' font-style='italic' font-size='100'>k</text></g>
<g transform="translate(741.653,358.974) rotate(-90) scale(0.34353,0.34730)"><text font-family='Liberation Sans' font-weight='bold' font-size='100'>obs</text></g>
<g transform="translate(729.266,283.625) rotate(-90) scale(0.42500,0.50638)"><text font-family='Liberation Sans' font-weight='bold' font-size='100'>(</text></g>
<g transform="translate(729.402,267.340) rotate(-90) scale(0.48511,0.49818)"><text font-family='Liberation Sans' font-weight='bold' font-size='100'>s</text></g>
<g transform="translate(708.700,239.640) rotate(-90) scale(0.36000,0.37500)"><text font-family='Liberation Sans' font-weight='bold' font-size='100'>-</text></g>
<g transform="translate(707.700,229.552) rotate(-90) scale(0.34516,0.34444)"><path transform='translate(0.0,0)' d='M27.5,0 L40.8,0 L40.8,-71.6 L29.5,-71.6 Q24,-59 9.7,-51.8 L9.7,-40.2 Q19.5,-43.5 27.5,-48.6 Z'/></g>
<g transform="translate(728.812,207.400) rotate(-90) scale(0.40714,0.49468)"><text font-family='Liberation Sans' font-weight='bold' font-size='100'>)</text></g>
</svg></body></html>
